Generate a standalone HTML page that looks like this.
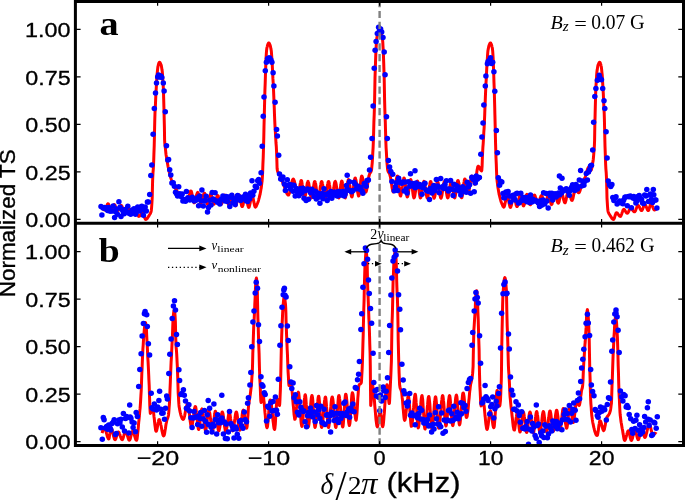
<!DOCTYPE html><html><head><meta charset="utf-8"><style>html,body{margin:0;padding:0;background:#fff;overflow:hidden;}svg{display:block;}</style></head><body><svg width="685" height="501" viewBox="0 0 685 501" style="will-change:transform">
<defs><clipPath id="ca"><rect x="75.4" y="1.5" width="608.1" height="221.8"/></clipPath><clipPath id="cb"><rect x="75.4" y="223.3" width="608.1" height="222.2"/></clipPath></defs>
<rect width="685" height="501" fill="#fff"/>
<g clip-path="url(#ca)"><path d="M102.4,208.0 102.7,208.4 102.9,208.7 103.1,209.0 103.3,209.3 103.5,209.5 103.8,209.6 104.0,209.7 104.2,209.8 104.4,209.9 104.7,209.9 104.9,209.9 105.1,209.8 105.3,209.6 105.5,209.2 105.8,208.7 106.0,208.2 106.2,207.6 106.4,206.9 106.7,206.3 106.9,205.7 107.1,205.1 107.3,204.5 107.5,204.1 107.8,203.8 108.0,203.7 108.2,203.7 108.4,203.9 108.6,204.3 108.9,204.9 109.1,205.6 109.3,206.3 109.5,207.1 109.8,207.9 110.0,208.7 110.2,209.4 110.4,210.0 110.6,210.4 110.9,210.6 111.1,210.6 111.3,210.5 111.5,210.2 111.8,209.8 112.0,209.3 112.2,208.8 112.4,208.2 112.6,207.6 112.9,207.0 113.1,206.4 113.3,205.9 113.5,205.4 113.8,205.0 114.0,204.8 114.2,204.6 114.4,204.6 114.6,204.8 114.9,205.0 115.1,205.4 115.3,205.9 115.5,206.4 115.8,207.0 116.0,207.6 116.2,208.2 116.4,208.8 116.6,209.3 116.9,209.8 117.1,210.2 117.3,210.5 117.5,210.6 117.8,210.6 118.0,210.5 118.2,210.3 118.4,210.0 118.6,209.6 118.9,209.2 119.1,208.7 119.3,208.2 119.5,207.8 119.7,207.3 120.0,206.8 120.2,206.4 120.4,206.0 120.6,205.7 120.9,205.5 121.1,205.4 121.3,205.4 121.5,205.5 121.7,205.8 122.0,206.2 122.2,206.7 122.4,207.2 122.6,207.8 122.9,208.4 123.1,209.0 123.3,209.6 123.5,210.2 123.7,210.7 124.0,211.2 124.2,211.5 124.4,211.7 124.6,211.8 124.9,211.8 125.1,211.7 125.3,211.5 125.5,211.4 125.7,211.2 126.0,210.9 126.2,210.7 126.4,210.4 126.6,210.1 126.9,209.8 127.1,209.5 127.3,209.3 127.5,209.0 127.7,208.8 128.0,208.6 128.2,208.5 128.4,208.4 128.6,208.4 128.9,208.4 129.1,208.6 129.3,208.9 129.5,209.2 129.7,209.7 130.0,210.1 130.2,210.6 130.4,211.1 130.6,211.6 130.8,212.0 131.1,212.5 131.3,212.8 131.5,213.1 131.7,213.3 132.0,213.3 132.2,213.3 132.4,213.1 132.6,212.9 132.8,212.7 133.1,212.3 133.3,212.0 133.5,211.6 133.7,211.2 134.0,210.8 134.2,210.5 134.4,210.1 134.6,209.8 134.8,209.6 135.1,209.4 135.3,209.3 135.5,209.4 135.7,209.5 136.0,209.8 136.2,210.2 136.4,210.8 136.6,211.4 136.8,212.0 137.1,212.7 137.3,213.4 137.5,214.0 137.7,214.6 138.0,215.2 138.2,215.7 138.4,216.0 138.6,216.3 138.8,216.4 139.1,216.3 139.3,216.2 139.5,216.1 139.7,215.9 140.0,215.6 140.2,215.4 140.4,215.1 140.6,214.8 140.8,214.5 141.1,214.2 141.3,213.9 141.5,213.6 141.7,213.3 141.9,213.1 142.2,212.9 142.4,212.8 142.6,212.8 142.8,212.8 143.1,213.0 143.3,213.3 143.5,213.9 143.7,214.5 143.9,215.2 144.2,215.9 144.4,216.6 144.6,217.3 144.8,218.0 145.1,218.6 145.3,219.0 145.5,219.3 145.7,219.4 145.9,219.4 146.2,219.3 146.4,219.2 146.6,219.0 146.8,218.8 147.1,218.6 147.3,218.3 147.5,218.0 147.7,217.7 147.9,217.4 148.2,217.0 148.4,216.7 148.6,216.3 148.8,215.9 149.1,215.6 149.3,215.2 149.5,214.8 149.7,214.5 149.9,214.1 150.2,213.8 150.4,213.4 150.6,212.9 150.8,212.3 151.1,211.6 151.3,210.4 151.5,208.6 151.7,206.0 151.9,202.8 152.2,198.1 152.4,189.1 152.6,181.0 152.8,176.2 153.0,172.5 153.3,169.1 153.5,165.4 153.7,160.7 153.9,154.2 154.2,146.2 154.4,137.7 154.6,128.0 154.8,119.1 155.0,113.0 155.3,107.9 155.5,103.1 155.7,98.2 155.9,93.5 156.2,89.1 156.4,85.3 156.6,81.6 156.8,78.1 157.0,74.9 157.3,72.3 157.5,70.2 157.7,68.4 157.9,66.8 158.2,65.5 158.4,64.6 158.6,63.9 158.8,63.2 159.0,62.7 159.3,62.4 159.5,62.3 159.7,62.3 159.9,62.6 160.2,62.9 160.4,63.3 160.6,63.8 160.8,64.3 161.0,64.9 161.3,65.6 161.5,66.7 161.7,67.9 161.9,69.4 162.2,71.0 162.4,73.1 162.6,75.8 162.8,79.1 163.0,82.9 163.3,87.2 163.5,92.6 163.7,99.5 163.9,106.8 164.1,115.1 164.4,127.0 164.6,140.0 164.8,143.5 165.0,145.7 165.3,147.4 165.5,149.4 165.7,151.4 165.9,153.3 166.1,155.0 166.4,156.7 166.6,158.2 166.8,159.6 167.0,160.9 167.3,162.2 167.5,163.4 167.7,164.5 167.9,165.7 168.1,166.8 168.4,167.9 168.6,169.0 168.8,170.1 169.0,171.1 169.3,172.1 169.5,173.1 169.7,174.0 169.9,174.9 170.1,175.7 170.4,176.5 170.6,177.2 170.8,178.0 171.0,178.7 171.3,179.3 171.5,180.0 171.7,180.6 171.9,181.3 172.1,181.8 172.4,182.4 172.6,183.0 172.8,183.5 173.0,184.0 173.3,184.5 173.5,185.0 173.7,185.4 173.9,185.8 174.1,186.3 174.4,186.7 174.6,187.1 174.8,187.5 175.0,187.8 175.2,188.2 175.5,188.6 175.7,188.9 175.9,189.3 176.1,189.6 176.4,190.0 176.6,190.4 176.8,190.7 177.0,191.1 177.2,191.4 177.5,191.8 177.7,192.2 177.9,192.6 178.1,193.0 178.4,193.3 178.6,193.7 178.8,194.1 179.0,194.4 179.2,194.7 179.5,195.1 179.7,195.4 179.9,195.6 180.1,195.9 180.4,196.1 180.6,196.3 180.8,196.5 181.0,196.7 181.2,196.9 181.5,197.1 181.7,197.3 181.9,197.5 182.1,197.7 182.4,197.9 182.6,198.1 182.8,198.3 183.0,198.5 183.2,198.6 183.5,198.8 183.7,199.0 183.9,199.1 184.1,199.3 184.4,199.4 184.6,199.5 184.8,199.7 185.0,199.8 185.2,199.9 185.5,200.0 185.7,200.1 185.9,200.2 186.1,200.2 186.3,200.3 186.6,200.3 186.8,200.4 187.0,200.4 187.2,200.4 187.5,200.3 187.7,200.0 187.9,199.6 188.1,199.0 188.3,198.3 188.6,197.5 188.8,196.7 189.0,195.9 189.2,195.0 189.5,194.2 189.7,193.4 189.9,192.6 190.1,192.0 190.3,191.5 190.6,191.1 190.8,190.9 191.0,190.9 191.2,191.2 191.5,191.8 191.7,192.6 191.9,193.5 192.1,194.5 192.3,195.7 192.6,196.9 192.8,198.1 193.0,199.2 193.2,200.3 193.5,201.2 193.7,202.0 193.9,202.5 194.1,202.8 194.3,202.8 194.6,202.6 194.8,202.2 195.0,201.6 195.2,200.9 195.5,200.0 195.7,199.1 195.9,198.1 196.1,197.2 196.3,196.2 196.6,195.3 196.8,194.4 197.0,193.7 197.2,193.1 197.4,192.7 197.7,192.4 197.9,192.5 198.1,192.8 198.3,193.3 198.6,194.1 198.8,195.1 199.0,196.1 199.2,197.3 199.4,198.4 199.7,199.5 199.9,200.6 200.1,201.6 200.3,202.3 200.6,202.9 200.8,203.2 201.0,203.2 201.2,203.0 201.4,202.6 201.7,202.0 201.9,201.3 202.1,200.5 202.3,199.6 202.6,198.7 202.8,197.7 203.0,196.8 203.2,195.9 203.4,195.1 203.7,194.4 203.9,193.8 204.1,193.4 204.3,193.2 204.6,193.2 204.8,193.5 205.0,194.1 205.2,194.9 205.4,195.8 205.7,196.9 205.9,198.0 206.1,199.2 206.3,200.3 206.6,201.4 206.8,202.5 207.0,203.3 207.2,204.0 207.4,204.4 207.7,204.6 207.9,204.4 208.1,204.0 208.3,203.3 208.5,202.5 208.8,201.5 209.0,200.5 209.2,199.4 209.4,198.2 209.7,197.2 209.9,196.2 210.1,195.4 210.3,194.7 210.5,194.3 210.8,194.1 211.0,194.3 211.2,194.7 211.4,195.3 211.7,196.1 211.9,197.1 212.1,198.1 212.3,199.2 212.5,200.2 212.8,201.3 213.0,202.2 213.2,203.0 213.4,203.6 213.7,204.1 213.9,204.2 214.1,204.1 214.3,203.9 214.5,203.5 214.8,203.0 215.0,202.5 215.2,201.8 215.4,201.1 215.7,200.4 215.9,199.6 216.1,198.9 216.3,198.2 216.5,197.5 216.8,196.9 217.0,196.4 217.2,195.9 217.4,195.6 217.7,195.5 217.9,195.5 218.1,195.7 218.3,196.1 218.5,196.6 218.8,197.2 219.0,198.0 219.2,198.8 219.4,199.6 219.6,200.5 219.9,201.3 220.1,202.1 220.3,202.8 220.5,203.3 220.8,203.8 221.0,204.1 221.2,204.2 221.4,204.1 221.6,203.8 221.9,203.4 222.1,202.8 222.3,202.1 222.5,201.3 222.8,200.5 223.0,199.6 223.2,198.8 223.4,198.0 223.6,197.2 223.9,196.5 224.1,195.9 224.3,195.5 224.5,195.2 224.8,195.1 225.0,195.2 225.2,195.4 225.4,195.7 225.6,196.2 225.9,196.7 226.1,197.4 226.3,198.1 226.5,198.8 226.8,199.5 227.0,200.3 227.2,201.1 227.4,201.8 227.6,202.5 227.9,203.1 228.1,203.7 228.3,204.1 228.5,204.5 228.8,204.7 229.0,204.8 229.2,204.6 229.4,204.3 229.6,203.7 229.9,202.9 230.1,202.1 230.3,201.1 230.5,200.1 230.7,199.0 231.0,198.0 231.2,197.0 231.4,196.2 231.6,195.4 231.9,194.8 232.1,194.5 232.3,194.3 232.5,194.5 232.7,194.9 233.0,195.5 233.2,196.4 233.4,197.3 233.6,198.4 233.9,199.5 234.1,200.7 234.3,201.8 234.5,202.9 234.7,203.9 235.0,204.7 235.2,205.3 235.4,205.8 235.6,205.9 235.9,205.8 236.1,205.4 236.3,204.7 236.5,203.9 236.7,203.0 237.0,202.0 237.2,200.9 237.4,199.7 237.6,198.6 237.9,197.6 238.1,196.7 238.3,195.9 238.5,195.2 238.7,194.8 239.0,194.7 239.2,194.9 239.4,195.3 239.6,196.0 239.9,196.9 240.1,198.0 240.3,199.2 240.5,200.4 240.7,201.6 241.0,202.8 241.2,203.9 241.4,204.9 241.6,205.7 241.8,206.3 242.1,206.6 242.3,206.6 242.5,206.3 242.7,205.8 243.0,205.1 243.2,204.2 243.4,203.1 243.6,202.0 243.8,200.9 244.1,199.7 244.3,198.6 244.5,197.6 244.7,196.7 245.0,195.9 245.2,195.4 245.4,195.1 245.6,195.1 245.8,195.4 246.1,196.1 246.3,196.9 246.5,197.9 246.7,199.1 247.0,200.3 247.2,201.6 247.4,202.8 247.6,204.0 247.8,205.1 248.1,206.1 248.3,206.8 248.5,207.3 248.7,207.4 249.0,207.3 249.2,206.9 249.4,206.2 249.6,205.4 249.8,204.4 250.1,203.3 250.3,202.1 250.5,201.0 250.7,199.8 251.0,198.7 251.2,197.7 251.4,196.9 251.6,196.2 251.8,195.8 252.1,195.7 252.3,195.8 252.5,196.2 252.7,196.8 252.9,197.6 253.2,198.6 253.4,199.7 253.6,200.8 253.8,201.9 254.1,203.0 254.3,204.1 254.5,205.1 254.7,205.9 254.9,206.5 255.2,206.9 255.4,207.1 255.6,207.0 255.8,206.8 256.1,206.5 256.3,206.1 256.5,205.7 256.7,205.1 256.9,204.6 257.2,204.1 257.4,203.5 257.6,203.0 257.8,202.4 258.1,201.8 258.3,201.1 258.5,200.3 258.7,199.6 258.9,198.8 259.2,197.9 259.4,197.0 259.6,196.1 259.8,195.2 260.1,194.2 260.3,193.1 260.5,192.0 260.7,190.8 260.9,189.5 261.2,188.1 261.4,186.5 261.6,184.9 261.8,183.1 262.1,181.0 262.3,178.5 262.5,175.3 262.7,170.4 262.9,164.4 263.2,157.9 263.4,151.4 263.6,144.6 263.8,136.8 264.0,126.8 264.3,114.9 264.5,106.5 264.7,98.9 264.9,90.7 265.2,83.0 265.4,76.3 265.6,70.2 265.8,64.6 266.0,59.1 266.3,54.2 266.5,51.1 266.7,49.3 266.9,47.9 267.2,46.8 267.4,45.9 267.6,45.2 267.8,44.5 268.0,43.9 268.3,43.4 268.5,43.0 268.7,42.9 268.9,43.0 269.2,43.2 269.4,43.6 269.6,44.1 269.8,44.6 270.0,45.2 270.3,45.9 270.5,46.7 270.7,47.7 270.9,48.9 271.2,50.3 271.4,52.0 271.6,54.6 271.8,57.9 272.0,61.6 272.3,65.5 272.5,69.4 272.7,73.7 272.9,78.4 273.2,83.0 273.4,87.3 273.6,91.7 273.8,96.4 274.0,101.9 274.3,108.7 274.5,114.9 274.7,119.8 274.9,124.2 275.1,128.4 275.4,132.4 275.6,136.2 275.8,139.7 276.0,143.0 276.3,146.5 276.5,150.4 276.7,154.8 276.9,161.6 277.1,168.5 277.4,170.5 277.6,171.3 277.8,171.9 278.0,172.4 278.3,172.7 278.5,173.1 278.7,173.3 278.9,173.6 279.1,173.8 279.4,174.1 279.6,174.5 279.8,175.0 280.0,175.5 280.3,176.1 280.5,176.6 280.7,177.2 280.9,177.8 281.1,178.4 281.4,179.0 281.6,179.6 281.8,180.2 282.0,180.7 282.3,181.3 282.5,181.9 282.7,182.5 282.9,183.1 283.1,183.7 283.4,184.2 283.6,184.8 283.8,185.3 284.0,185.9 284.3,186.4 284.5,187.0 284.7,187.6 284.9,188.2 285.1,188.8 285.4,189.4 285.6,190.0 285.8,190.7 286.0,191.3 286.2,191.9 286.5,192.4 286.7,192.9 286.9,193.4 287.1,193.9 287.4,194.2 287.6,194.6 287.8,194.8 288.0,195.0 288.2,195.1 288.5,195.1 288.7,194.9 288.9,194.5 289.1,194.0 289.4,193.3 289.6,192.6 289.8,191.7 290.0,190.8 290.2,189.8 290.5,188.7 290.7,187.6 290.9,186.6 291.1,185.5 291.4,184.4 291.6,183.4 291.8,182.5 292.0,181.6 292.2,180.9 292.5,180.2 292.7,179.7 292.9,179.3 293.1,179.1 293.4,179.1 293.6,179.3 293.8,179.7 294.0,180.2 294.2,180.9 294.5,181.7 294.7,182.5 294.9,183.5 295.1,184.5 295.4,185.6 295.6,186.6 295.8,187.7 296.0,188.8 296.2,189.8 296.5,190.8 296.7,191.7 296.9,192.6 297.1,193.3 297.3,193.9 297.6,194.3 297.8,194.6 298.0,194.7 298.2,194.5 298.5,194.0 298.7,193.1 298.9,192.0 299.1,190.8 299.3,189.4 299.6,187.9 299.8,186.5 300.0,185.0 300.2,183.7 300.5,182.5 300.7,181.6 300.9,180.9 301.1,180.5 301.3,180.5 301.6,180.9 301.8,181.7 302.0,182.9 302.2,184.2 302.5,185.8 302.7,187.5 302.9,189.2 303.1,190.9 303.3,192.6 303.6,194.2 303.8,195.5 304.0,196.6 304.2,197.4 304.5,197.9 304.7,197.9 304.9,197.5 305.1,196.8 305.3,195.8 305.6,194.6 305.8,193.2 306.0,191.6 306.2,190.1 306.5,188.5 306.7,186.9 306.9,185.5 307.1,184.1 307.3,183.0 307.6,182.2 307.8,181.6 308.0,181.4 308.2,181.6 308.4,182.2 308.7,183.0 308.9,184.1 309.1,185.5 309.3,186.9 309.6,188.5 309.8,190.1 310.0,191.6 310.2,193.2 310.4,194.6 310.7,195.8 310.9,196.8 311.1,197.5 311.3,197.9 311.6,197.9 311.8,197.5 312.0,196.7 312.2,195.7 312.4,194.4 312.7,192.9 312.9,191.3 313.1,189.7 313.3,188.0 313.6,186.4 313.8,185.0 314.0,183.7 314.2,182.6 314.4,181.9 314.7,181.5 314.9,181.5 315.1,181.8 315.3,182.6 315.6,183.6 315.8,184.8 316.0,186.2 316.2,187.8 316.4,189.4 316.7,191.0 316.9,192.5 317.1,194.0 317.3,195.4 317.6,196.5 317.8,197.4 318.0,197.9 318.2,198.1 318.4,197.9 318.7,197.4 318.9,196.5 319.1,195.4 319.3,194.0 319.5,192.5 319.8,191.0 320.0,189.4 320.2,187.8 320.4,186.2 320.7,184.8 320.9,183.6 321.1,182.6 321.3,181.8 321.5,181.5 321.8,181.5 322.0,181.8 322.2,182.6 322.4,183.6 322.7,184.8 322.9,186.2 323.1,187.8 323.3,189.4 323.5,191.0 323.8,192.5 324.0,194.0 324.2,195.4 324.4,196.5 324.7,197.4 324.9,197.9 325.1,198.1 325.3,197.9 325.5,197.4 325.8,196.5 326.0,195.4 326.2,194.0 326.4,192.5 326.7,191.0 326.9,189.4 327.1,187.8 327.3,186.2 327.5,184.8 327.8,183.6 328.0,182.6 328.2,181.8 328.4,181.5 328.7,181.5 328.9,181.9 329.1,182.6 329.3,183.7 329.5,185.0 329.8,186.5 330.0,188.1 330.2,189.8 330.4,191.4 330.6,193.0 330.9,194.5 331.1,195.8 331.3,196.9 331.5,197.7 331.8,198.1 332.0,198.1 332.2,197.7 332.4,196.9 332.6,195.8 332.9,194.5 333.1,193.0 333.3,191.4 333.5,189.8 333.8,188.1 334.0,186.5 334.2,185.0 334.4,183.7 334.6,182.6 334.9,181.9 335.1,181.5 335.3,181.4 335.5,181.8 335.8,182.5 336.0,183.4 336.2,184.6 336.4,185.9 336.6,187.4 336.9,188.9 337.1,190.4 337.3,192.0 337.5,193.4 337.8,194.7 338.0,195.9 338.2,196.8 338.4,197.5 338.6,197.9 338.9,197.9 339.1,197.4 339.3,196.4 339.5,195.1 339.8,193.5 340.0,191.8 340.2,189.9 340.4,188.1 340.6,186.3 340.9,184.6 341.1,183.2 341.3,182.0 341.5,181.3 341.7,181.0 342.0,181.2 342.2,181.8 342.4,182.7 342.6,183.8 342.9,185.2 343.1,186.7 343.3,188.3 343.5,189.9 343.7,191.5 344.0,193.1 344.2,194.5 344.4,195.7 344.6,196.8 344.9,197.5 345.1,197.9 345.3,197.9 345.5,197.4 345.7,196.6 346.0,195.4 346.2,193.9 346.4,192.3 346.6,190.5 346.9,188.7 347.1,186.9 347.3,185.1 347.5,183.5 347.7,182.0 348.0,180.9 348.2,180.0 348.4,179.6 348.6,179.6 348.9,180.0 349.1,180.8 349.3,181.9 349.5,183.3 349.7,184.8 350.0,186.5 350.2,188.2 350.4,190.0 350.6,191.7 350.9,193.2 351.1,194.6 351.3,195.7 351.5,196.5 351.7,196.9 352.0,196.9 352.2,196.4 352.4,195.6 352.6,194.4 352.8,192.9 353.1,191.2 353.3,189.4 353.5,187.5 353.7,185.6 354.0,183.8 354.2,182.1 354.4,180.6 354.6,179.4 354.8,178.5 355.1,178.0 355.3,178.0 355.5,178.4 355.7,179.2 356.0,180.2 356.2,181.5 356.4,182.9 356.6,184.5 356.8,186.2 357.1,187.8 357.3,189.5 357.5,191.1 357.7,192.5 358.0,193.8 358.2,194.8 358.4,195.6 358.6,196.0 358.8,195.9 359.1,195.3 359.3,194.2 359.5,192.7 359.7,190.9 360.0,188.8 360.2,186.6 360.4,184.4 360.6,182.3 360.8,180.3 361.1,178.6 361.3,177.3 361.5,176.4 361.7,176.1 362.0,176.2 362.2,176.6 362.4,177.2 362.6,178.0 362.8,179.0 363.1,180.1 363.3,181.3 363.5,182.6 363.7,183.9 363.9,185.2 364.2,186.5 364.4,187.7 364.6,188.8 364.8,189.8 365.1,190.7 365.3,191.4 365.5,191.8 365.7,192.0 365.9,192.0 366.2,191.6 366.4,191.0 366.6,190.1 366.8,189.1 367.1,187.9 367.3,186.6 367.5,185.1 367.7,183.7 367.9,182.2 368.2,180.8 368.4,179.4 368.6,178.0 368.8,176.8 369.1,175.8 369.3,174.9 369.5,174.3 369.7,173.7 369.9,173.3 370.2,173.0 370.4,172.7 370.6,172.3 370.8,171.9 371.1,171.4 371.3,170.8 371.5,170.0 371.7,168.5 371.9,166.1 372.2,163.1 372.4,159.9 372.6,156.5 372.8,152.4 373.1,147.8 373.3,142.7 373.5,136.9 373.7,129.6 373.9,121.9 374.2,114.8 374.4,108.0 374.6,100.1 374.8,89.3 375.0,77.9 375.3,69.2 375.5,62.6 375.7,57.0 375.9,51.5 376.2,46.3 376.4,42.3 376.6,40.0 376.8,38.4 377.0,37.1 377.3,36.0 377.5,34.9 377.7,33.8 377.9,32.8 378.2,32.0 378.4,31.4 378.6,30.9 378.8,30.3 379.0,29.9 379.3,29.6 379.5,29.4 379.7,29.4 379.9,29.6 380.2,29.9 380.4,30.3 380.6,30.9 380.8,31.4 381.0,32.0 381.3,32.8 381.5,33.8 381.7,34.9 381.9,36.0 382.2,37.1 382.4,38.4 382.6,40.0 382.8,42.3 383.0,46.3 383.3,51.5 383.5,56.9 383.7,62.6 383.9,69.2 384.2,77.9 384.4,89.2 384.6,100.1 384.8,108.0 385.0,114.8 385.3,121.9 385.5,129.6 385.7,136.9 385.9,142.7 386.1,147.8 386.4,152.4 386.6,156.5 386.8,159.9 387.0,163.1 387.3,166.1 387.5,168.5 387.7,170.0 387.9,170.8 388.1,171.4 388.4,171.9 388.6,172.3 388.8,172.7 389.0,173.0 389.3,173.3 389.5,173.7 389.7,174.3 389.9,174.9 390.1,175.8 390.4,176.8 390.6,178.0 390.8,179.4 391.0,180.8 391.3,182.2 391.5,183.7 391.7,185.1 391.9,186.6 392.1,187.9 392.4,189.1 392.6,190.1 392.8,191.0 393.0,191.6 393.3,192.0 393.5,192.0 393.7,191.8 393.9,191.4 394.1,190.7 394.4,189.8 394.6,188.8 394.8,187.7 395.0,186.5 395.3,185.2 395.5,183.9 395.7,182.6 395.9,181.3 396.1,180.1 396.4,179.0 396.6,178.0 396.8,177.2 397.0,176.6 397.2,176.2 397.5,176.1 397.7,176.4 397.9,177.3 398.1,178.6 398.4,180.3 398.6,182.3 398.8,184.4 399.0,186.6 399.2,188.8 399.5,190.9 399.7,192.7 399.9,194.2 400.1,195.3 400.4,195.9 400.6,196.0 400.8,195.6 401.0,194.8 401.2,193.8 401.5,192.5 401.7,191.1 401.9,189.5 402.1,187.8 402.4,186.2 402.6,184.5 402.8,182.9 403.0,181.5 403.2,180.2 403.5,179.2 403.7,178.4 403.9,178.0 404.1,178.0 404.4,178.5 404.6,179.4 404.8,180.6 405.0,182.1 405.2,183.8 405.5,185.6 405.7,187.5 405.9,189.4 406.1,191.2 406.4,192.9 406.6,194.4 406.8,195.6 407.0,196.4 407.2,196.9 407.5,196.9 407.7,196.5 407.9,195.7 408.1,194.6 408.3,193.2 408.6,191.7 408.8,190.0 409.0,188.2 409.2,186.5 409.5,184.8 409.7,183.3 409.9,181.9 410.1,180.8 410.3,180.0 410.6,179.6 410.8,179.6 411.0,180.0 411.2,180.9 411.5,182.0 411.7,183.5 411.9,185.1 412.1,186.9 412.3,188.7 412.6,190.5 412.8,192.3 413.0,193.9 413.2,195.4 413.5,196.6 413.7,197.4 413.9,197.9 414.1,197.9 414.3,197.5 414.6,196.8 414.8,195.7 415.0,194.5 415.2,193.1 415.5,191.5 415.7,189.9 415.9,188.3 416.1,186.7 416.3,185.2 416.6,183.8 416.8,182.7 417.0,181.8 417.2,181.2 417.5,181.0 417.7,181.3 417.9,182.0 418.1,183.2 418.3,184.6 418.6,186.3 418.8,188.1 419.0,189.9 419.2,191.8 419.4,193.5 419.7,195.1 419.9,196.4 420.1,197.4 420.3,197.9 420.6,197.9 420.8,197.5 421.0,196.8 421.2,195.9 421.4,194.7 421.7,193.4 421.9,192.0 422.1,190.4 422.3,188.9 422.6,187.4 422.8,185.9 423.0,184.6 423.2,183.4 423.4,182.5 423.7,181.8 423.9,181.4 424.1,181.5 424.3,181.9 424.6,182.6 424.8,183.7 425.0,185.0 425.2,186.5 425.4,188.1 425.7,189.8 425.9,191.4 426.1,193.0 426.3,194.5 426.6,195.8 426.8,196.9 427.0,197.7 427.2,198.1 427.4,198.1 427.7,197.7 427.9,196.9 428.1,195.8 428.3,194.5 428.6,193.0 428.8,191.4 429.0,189.8 429.2,188.1 429.4,186.5 429.7,185.0 429.9,183.7 430.1,182.6 430.3,181.9 430.5,181.5 430.8,181.5 431.0,181.8 431.2,182.6 431.4,183.6 431.7,184.8 431.9,186.2 432.1,187.8 432.3,189.4 432.5,191.0 432.8,192.5 433.0,194.0 433.2,195.4 433.4,196.5 433.7,197.4 433.9,197.9 434.1,198.1 434.3,197.9 434.5,197.4 434.8,196.5 435.0,195.4 435.2,194.0 435.4,192.5 435.7,191.0 435.9,189.4 436.1,187.8 436.3,186.2 436.5,184.8 436.8,183.6 437.0,182.6 437.2,181.8 437.4,181.5 437.7,181.5 437.9,181.8 438.1,182.6 438.3,183.6 438.5,184.8 438.8,186.2 439.0,187.8 439.2,189.4 439.4,191.0 439.7,192.5 439.9,194.0 440.1,195.4 440.3,196.5 440.5,197.4 440.8,197.9 441.0,198.1 441.2,197.9 441.4,197.4 441.6,196.5 441.9,195.4 442.1,194.0 442.3,192.5 442.5,191.0 442.8,189.4 443.0,187.8 443.2,186.2 443.4,184.8 443.6,183.6 443.9,182.6 444.1,181.8 444.3,181.5 444.5,181.5 444.8,181.9 445.0,182.6 445.2,183.7 445.4,185.0 445.6,186.4 445.9,188.0 446.1,189.7 446.3,191.3 446.5,192.9 446.8,194.4 447.0,195.7 447.2,196.7 447.4,197.5 447.6,197.9 447.9,197.9 448.1,197.5 448.3,196.8 448.5,195.8 448.8,194.6 449.0,193.2 449.2,191.6 449.4,190.1 449.6,188.5 449.9,186.9 450.1,185.5 450.3,184.1 450.5,183.0 450.8,182.2 451.0,181.6 451.2,181.4 451.4,181.6 451.6,182.2 451.9,183.0 452.1,184.1 452.3,185.5 452.5,186.9 452.7,188.5 453.0,190.1 453.2,191.6 453.4,193.2 453.6,194.6 453.9,195.8 454.1,196.8 454.3,197.5 454.5,197.9 454.7,197.9 455.0,197.4 455.2,196.6 455.4,195.5 455.6,194.2 455.9,192.6 456.1,190.9 456.3,189.2 456.5,187.5 456.7,185.8 457.0,184.2 457.2,182.9 457.4,181.7 457.6,180.9 457.9,180.5 458.1,180.5 458.3,180.9 458.5,181.5 458.7,182.5 459.0,183.6 459.2,184.9 459.4,186.4 459.6,187.9 459.9,189.5 460.1,191.0 460.3,192.5 460.5,193.9 460.7,195.2 461.0,196.2 461.2,197.0 461.4,197.6 461.6,197.7 461.9,197.5 462.1,196.8 462.3,195.7 462.5,194.2 462.7,192.6 463.0,190.7 463.2,188.8 463.4,186.9 463.6,185.0 463.8,183.2 464.1,181.7 464.3,180.4 464.5,179.5 464.7,179.0 465.0,179.0 465.2,179.3 465.4,180.0 465.6,180.9 465.8,182.0 466.1,183.2 466.3,184.6 466.5,186.0 466.7,187.4 467.0,188.7 467.2,190.0 467.4,191.1 467.6,191.9 467.8,192.6 468.1,192.9 468.3,192.9 468.5,192.6 468.7,191.9 469.0,191.0 469.2,189.9 469.4,188.6 469.6,187.2 469.8,185.7 470.1,184.2 470.3,182.6 470.5,181.2 470.7,179.8 471.0,178.6 471.2,177.6 471.4,176.8 471.6,176.3 471.8,176.1 472.1,176.2 472.3,176.6 472.5,177.2 472.7,177.9 473.0,178.8 473.2,179.7 473.4,180.6 473.6,181.6 473.8,182.4 474.1,183.1 474.3,183.7 474.5,184.1 474.7,184.2 474.9,184.0 475.2,183.4 475.4,182.5 475.6,181.3 475.8,179.8 476.1,178.2 476.3,176.5 476.5,174.8 476.7,173.1 476.9,171.4 477.2,169.9 477.4,168.5 477.6,167.5 477.8,166.7 478.1,166.3 478.3,166.2 478.5,166.3 478.7,166.5 478.9,166.8 479.2,167.1 479.4,167.5 479.6,167.9 479.8,168.4 480.1,168.8 480.3,169.2 480.5,169.7 480.7,170.0 480.9,170.4 481.2,170.6 481.4,170.8 481.6,170.9 481.8,170.3 482.1,166.1 482.3,160.1 482.5,154.8 482.7,150.8 482.9,147.1 483.2,143.5 483.4,139.9 483.6,136.3 483.8,132.4 484.1,128.4 484.3,124.2 484.5,119.8 484.7,114.9 484.9,108.7 485.2,101.9 485.4,96.4 485.6,91.7 485.8,87.3 486.0,83.0 486.3,78.4 486.5,73.7 486.7,69.4 486.9,65.5 487.2,61.6 487.4,57.9 487.6,54.6 487.8,52.0 488.0,50.3 488.3,48.9 488.5,47.7 488.7,46.7 488.9,45.9 489.2,45.2 489.4,44.6 489.6,44.1 489.8,43.6 490.0,43.2 490.3,43.0 490.5,42.9 490.7,43.0 490.9,43.4 491.2,43.9 491.4,44.5 491.6,45.2 491.8,45.9 492.0,46.8 492.3,47.9 492.5,49.3 492.7,51.1 492.9,54.2 493.2,59.1 493.4,64.6 493.6,70.2 493.8,76.3 494.0,83.0 494.3,90.7 494.5,98.9 494.7,106.5 494.9,114.9 495.2,126.8 495.4,136.8 495.6,144.6 495.8,151.4 496.0,157.9 496.3,164.4 496.5,170.4 496.7,175.3 496.9,178.5 497.1,181.0 497.4,183.1 497.6,184.9 497.8,186.5 498.0,188.0 498.3,189.5 498.5,190.8 498.7,192.0 498.9,193.1 499.1,194.2 499.4,195.2 499.6,196.1 499.8,197.0 500.0,197.9 500.3,198.8 500.5,199.6 500.7,200.3 500.9,201.1 501.1,201.8 501.4,202.4 501.6,203.0 501.8,203.5 502.0,204.1 502.3,204.6 502.5,205.1 502.7,205.7 502.9,206.1 503.1,206.5 503.4,206.8 503.6,207.0 503.8,207.1 504.0,206.9 504.3,206.5 504.5,205.9 504.7,205.1 504.9,204.1 505.1,203.0 505.4,201.9 505.6,200.8 505.8,199.7 506.0,198.6 506.3,197.6 506.5,196.8 506.7,196.2 506.9,195.8 507.1,195.7 507.4,195.8 507.6,196.2 507.8,196.9 508.0,197.7 508.2,198.7 508.5,199.8 508.7,201.0 508.9,202.1 509.1,203.3 509.4,204.4 509.6,205.4 509.8,206.2 510.0,206.9 510.2,207.3 510.5,207.4 510.7,207.3 510.9,206.8 511.1,206.1 511.4,205.1 511.6,204.0 511.8,202.8 512.0,201.6 512.2,200.3 512.5,199.1 512.7,197.9 512.9,196.9 513.1,196.1 513.4,195.4 513.6,195.1 513.8,195.1 514.0,195.4 514.2,195.9 514.5,196.7 514.7,197.6 514.9,198.6 515.1,199.7 515.4,200.9 515.6,202.0 515.8,203.1 516.0,204.2 516.2,205.1 516.5,205.8 516.7,206.3 516.9,206.6 517.1,206.6 517.4,206.3 517.6,205.7 517.8,204.9 518.0,203.9 518.2,202.8 518.5,201.6 518.7,200.4 518.9,199.2 519.1,198.0 519.3,196.9 519.6,196.0 519.8,195.3 520.0,194.9 520.2,194.7 520.5,194.8 520.7,195.2 520.9,195.9 521.1,196.7 521.3,197.6 521.6,198.6 521.8,199.7 522.0,200.9 522.2,202.0 522.5,203.0 522.7,203.9 522.9,204.7 523.1,205.4 523.3,205.8 523.6,205.9 523.8,205.8 524.0,205.3 524.2,204.7 524.5,203.9 524.7,202.9 524.9,201.8 525.1,200.7 525.3,199.5 525.6,198.4 525.8,197.3 526.0,196.4 526.2,195.5 526.5,194.9 526.7,194.5 526.9,194.3 527.1,194.5 527.3,194.8 527.6,195.4 527.8,196.2 528.0,197.0 528.2,198.0 528.5,199.0 528.7,200.1 528.9,201.1 529.1,202.1 529.3,202.9 529.6,203.7 529.8,204.3 530.0,204.6 530.2,204.8 530.4,204.7 530.7,204.5 530.9,204.1 531.1,203.7 531.3,203.1 531.6,202.5 531.8,201.8 532.0,201.1 532.2,200.3 532.4,199.5 532.7,198.8 532.9,198.1 533.1,197.4 533.3,196.7 533.6,196.2 533.8,195.7 534.0,195.4 534.2,195.2 534.4,195.1 534.7,195.2 534.9,195.5 535.1,195.9 535.3,196.5 535.6,197.2 535.8,198.0 536.0,198.8 536.2,199.6 536.4,200.5 536.7,201.3 536.9,202.1 537.1,202.8 537.3,203.4 537.6,203.8 537.8,204.1 538.0,204.2 538.2,204.1 538.4,203.8 538.7,203.3 538.9,202.8 539.1,202.1 539.3,201.3 539.6,200.5 539.8,199.6 540.0,198.8 540.2,198.0 540.4,197.2 540.7,196.6 540.9,196.1 541.1,195.7 541.3,195.5 541.5,195.5 541.8,195.6 542.0,195.9 542.2,196.4 542.4,196.9 542.7,197.5 542.9,198.2 543.1,198.9 543.3,199.6 543.5,200.4 543.8,201.1 544.0,201.8 544.2,202.5 544.4,203.0 544.7,203.5 544.9,203.9 545.1,204.1 545.3,204.2 545.5,204.1 545.8,203.6 546.0,203.0 546.2,202.2 546.4,201.3 546.7,200.2 546.9,199.2 547.1,198.1 547.3,197.1 547.5,196.1 547.8,195.3 548.0,194.7 548.2,194.3 548.4,194.1 548.7,194.3 548.9,194.7 549.1,195.4 549.3,196.2 549.5,197.2 549.8,198.2 550.0,199.4 550.2,200.5 550.4,201.5 550.7,202.5 550.9,203.3 551.1,204.0 551.3,204.4 551.5,204.6 551.8,204.4 552.0,204.0 552.2,203.3 552.4,202.5 552.6,201.4 552.9,200.3 553.1,199.2 553.3,198.0 553.5,196.9 553.8,195.8 554.0,194.9 554.2,194.1 554.4,193.5 554.6,193.2 554.9,193.2 555.1,193.4 555.3,193.8 555.5,194.4 555.8,195.1 556.0,195.9 556.2,196.8 556.4,197.7 556.6,198.7 556.9,199.6 557.1,200.5 557.3,201.3 557.5,202.0 557.8,202.6 558.0,203.0 558.2,203.2 558.4,203.2 558.6,202.9 558.9,202.3 559.1,201.6 559.3,200.6 559.5,199.5 559.8,198.4 560.0,197.3 560.2,196.1 560.4,195.1 560.6,194.1 560.9,193.3 561.1,192.8 561.3,192.5 561.5,192.4 561.8,192.7 562.0,193.1 562.2,193.7 562.4,194.4 562.6,195.3 562.9,196.2 563.1,197.2 563.3,198.1 563.5,199.1 563.7,200.0 564.0,200.9 564.2,201.6 564.4,202.2 564.6,202.6 564.9,202.8 565.1,202.8 565.3,202.5 565.5,202.0 565.7,201.2 566.0,200.3 566.2,199.2 566.4,198.1 566.6,196.9 566.9,195.7 567.1,194.5 567.3,193.5 567.5,192.6 567.7,191.8 568.0,191.2 568.2,190.9 568.4,190.9 568.6,191.1 568.9,191.5 569.1,192.0 569.3,192.6 569.5,193.4 569.7,194.2 570.0,195.0 570.2,195.9 570.4,196.7 570.6,197.5 570.9,198.3 571.1,199.0 571.3,199.6 571.5,200.0 571.7,200.3 572.0,200.4 572.2,200.3 572.4,199.9 572.6,199.3 572.9,198.6 573.1,197.7 573.3,196.7 573.5,195.7 573.7,194.6 574.0,193.5 574.2,192.5 574.4,191.5 574.6,190.6 574.8,189.9 575.1,189.3 575.3,188.9 575.5,188.8 575.7,188.9 576.0,189.0 576.2,189.2 576.4,189.5 576.6,189.8 576.8,190.2 577.1,190.6 577.3,191.0 577.5,191.4 577.7,191.8 578.0,192.1 578.2,192.4 578.4,192.6 578.6,192.7 578.8,192.8 579.1,192.7 579.3,192.4 579.5,192.0 579.7,191.4 580.0,190.8 580.2,190.1 580.4,189.3 580.6,188.5 580.8,187.7 581.1,186.9 581.3,186.1 581.5,185.5 581.7,184.9 582.0,184.4 582.2,183.9 582.4,183.4 582.6,182.9 582.8,182.4 583.1,181.9 583.3,181.4 583.5,180.9 583.7,180.4 584.0,179.9 584.2,179.4 584.4,178.9 584.6,178.4 584.8,177.9 585.1,177.3 585.3,176.7 585.5,176.0 585.7,175.3 585.9,174.5 586.2,173.7 586.4,172.9 586.6,172.1 586.8,171.4 587.1,170.6 587.3,169.9 587.5,169.3 587.7,168.7 587.9,168.2 588.2,167.7 588.4,167.4 588.6,167.2 588.8,167.2 589.1,167.2 589.3,167.5 589.5,167.9 589.7,168.3 589.9,168.8 590.2,169.3 590.4,169.7 590.6,170.0 590.8,170.2 591.1,170.2 591.3,169.9 591.5,169.3 591.7,168.5 591.9,167.5 592.2,166.4 592.4,165.1 592.6,163.7 592.8,162.3 593.1,160.9 593.3,159.2 593.5,157.1 593.7,154.7 593.9,151.9 594.2,148.9 594.4,145.3 594.6,140.0 594.8,126.8 595.1,115.1 595.3,106.8 595.5,99.5 595.7,92.6 595.9,87.2 596.2,82.9 596.4,79.1 596.6,75.8 596.8,73.1 597.0,71.0 597.3,69.4 597.5,67.9 597.7,66.7 597.9,65.6 598.2,64.9 598.4,64.3 598.6,63.8 598.8,63.3 599.0,62.9 599.3,62.6 599.5,62.3 599.7,62.3 599.9,62.4 600.2,62.7 600.4,63.2 600.6,63.9 600.8,64.5 601.0,65.5 601.3,66.8 601.5,68.4 601.7,70.2 601.9,72.3 602.2,74.9 602.4,78.1 602.6,81.6 602.8,85.3 603.0,89.1 603.3,93.5 603.5,98.2 603.7,103.1 603.9,107.9 604.2,113.0 604.4,119.1 604.6,128.0 604.8,137.7 605.0,146.2 605.3,154.2 605.5,160.7 605.7,165.4 605.9,169.1 606.2,172.5 606.4,176.2 606.6,181.0 606.8,189.1 607.0,198.1 607.3,202.8 607.5,206.0 607.7,208.6 607.9,210.4 608.1,211.6 608.4,212.3 608.6,212.9 608.8,213.4 609.0,213.8 609.3,214.1 609.5,214.5 609.7,214.8 609.9,215.2 610.1,215.6 610.4,215.9 610.6,216.3 610.8,216.7 611.0,217.0 611.3,217.4 611.5,217.7 611.7,218.0 611.9,218.3 612.1,218.6 612.4,218.8 612.6,219.0 612.8,219.2 613.0,219.3 613.3,219.4 613.5,219.4 613.7,219.3 613.9,219.0 614.1,218.6 614.4,218.0 614.6,217.3 614.8,216.6 615.0,215.9 615.3,215.2 615.5,214.5 615.7,213.9 615.9,213.3 616.1,213.0 616.4,212.8 616.6,212.8 616.8,212.8 617.0,212.9 617.3,213.1 617.5,213.3 617.7,213.6 617.9,213.9 618.1,214.2 618.4,214.5 618.6,214.8 618.8,215.1 619.0,215.4 619.2,215.6 619.5,215.9 619.7,216.1 619.9,216.2 620.1,216.3 620.4,216.4 620.6,216.3 620.8,216.0 621.0,215.7 621.2,215.2 621.5,214.6 621.7,214.0 621.9,213.4 622.1,212.7 622.4,212.0 622.6,211.4 622.8,210.8 623.0,210.2 623.2,209.8 623.5,209.5 623.7,209.4 623.9,209.3 624.1,209.4 624.4,209.6 624.6,209.8 624.8,210.1 625.0,210.5 625.2,210.8 625.5,211.2 625.7,211.6 625.9,212.0 626.1,212.3 626.4,212.7 626.6,212.9 626.8,213.1 627.0,213.3 627.2,213.3 627.5,213.3 627.7,213.1 627.9,212.8 628.1,212.5 628.4,212.0 628.6,211.6 628.8,211.1 629.0,210.6 629.2,210.1 629.5,209.7 629.7,209.2 629.9,208.9 630.1,208.6 630.3,208.4 630.6,208.4 630.8,208.4 631.0,208.5 631.2,208.6 631.5,208.8 631.7,209.0 631.9,209.3 632.1,209.5 632.3,209.8 632.6,210.1 632.8,210.4 633.0,210.7 633.2,210.9 633.5,211.2 633.7,211.4 633.9,211.5 634.1,211.7 634.3,211.8 634.6,211.8 634.8,211.7 635.0,211.5 635.2,211.2 635.5,210.7 635.7,210.2 635.9,209.6 636.1,209.0 636.3,208.4 636.6,207.8 636.8,207.2 637.0,206.7 637.2,206.2 637.5,205.8 637.7,205.5 637.9,205.4 638.1,205.4 638.3,205.5 638.6,205.7 638.8,206.0 639.0,206.4 639.2,206.8 639.5,207.3 639.7,207.8 639.9,208.2 640.1,208.7 640.3,209.2 640.6,209.6 640.8,210.0 641.0,210.3 641.2,210.5 641.4,210.6 641.7,210.6 641.9,210.5 642.1,210.2 642.3,209.8 642.6,209.3 642.8,208.8 643.0,208.2 643.2,207.6 643.4,207.0 643.7,206.4 643.9,205.9 644.1,205.4 644.3,205.0 644.6,204.8 644.8,204.6 645.0,204.6 645.2,204.8 645.4,205.0 645.7,205.4 645.9,205.9 646.1,206.4 646.3,207.0 646.6,207.6 646.8,208.2 647.0,208.8 647.2,209.3 647.4,209.8 647.7,210.2 647.9,210.5 648.1,210.6 648.3,210.6 648.6,210.4 648.8,210.0 649.0,209.4 649.2,208.7 649.4,207.9 649.7,207.1 649.9,206.3 650.1,205.6 650.3,204.9 650.6,204.3 650.8,203.9 651.0,203.7 651.2,203.7 651.4,203.8 651.7,204.1 651.9,204.5 652.1,205.1 652.3,205.7 652.5,206.3 652.8,206.9 653.0,207.6 653.2,208.2 653.4,208.7 653.7,209.2 653.9,209.6 654.1,209.8 654.3,209.9 654.5,209.9 654.8,209.9 655.0,209.8 655.2,209.7 655.4,209.6 655.7,209.5 655.9,209.3 656.1,209.0 656.3,208.7 656.5,208.4 656.8,208.0" fill="none" stroke="#ff0000" stroke-width="3" stroke-linejoin="round"/></g>
<g clip-path="url(#cb)"><path d="M102.1,433.2 102.3,432.4 102.5,431.5 102.8,430.8 103.0,430.1 103.2,429.5 103.4,428.9 103.7,428.5 103.9,428.2 104.1,428.0 104.3,427.9 104.5,428.0 104.8,428.2 105.0,428.6 105.2,429.1 105.4,429.6 105.7,430.3 105.9,431.0 106.1,431.8 106.3,432.6 106.5,433.4 106.8,434.3 107.0,435.1 107.2,435.8 107.4,436.6 107.6,437.2 107.9,437.8 108.1,438.3 108.3,438.6 108.5,438.9 108.8,438.9 109.0,438.6 109.2,437.8 109.4,436.6 109.6,435.1 109.9,433.4 110.1,431.8 110.3,430.3 110.5,429.1 110.8,428.2 111.0,427.9 111.2,428.0 111.4,428.3 111.6,428.7 111.9,429.3 112.1,430.0 112.3,430.8 112.5,431.7 112.8,432.6 113.0,433.6 113.2,434.5 113.4,435.5 113.6,436.4 113.9,437.2 114.1,437.9 114.3,438.6 114.5,439.1 114.8,439.5 115.0,439.7 115.2,439.7 115.4,439.5 115.6,439.1 115.9,438.6 116.1,437.9 116.3,437.2 116.5,436.4 116.8,435.6 117.0,434.8 117.2,434.1 117.4,433.4 117.6,432.8 117.9,432.3 118.1,432.0 118.3,431.9 118.5,432.0 118.7,432.2 119.0,432.5 119.2,432.9 119.4,433.5 119.6,434.0 119.9,434.7 120.1,435.3 120.3,436.0 120.5,436.6 120.7,437.3 121.0,437.9 121.2,438.4 121.4,438.9 121.6,439.3 121.9,439.5 122.1,439.7 122.3,439.7 122.5,439.5 122.7,439.1 123.0,438.5 123.2,437.9 123.4,437.1 123.6,436.3 123.9,435.4 124.1,434.6 124.3,433.8 124.5,433.0 124.7,432.3 125.0,431.8 125.2,431.4 125.4,431.2 125.6,431.2 125.9,431.3 126.1,431.7 126.3,432.1 126.5,432.6 126.7,433.3 127.0,434.0 127.2,434.7 127.4,435.5 127.6,436.3 127.9,437.1 128.1,437.8 128.3,438.5 128.5,439.1 128.7,439.6 129.0,439.9 129.2,440.2 129.4,440.3 129.6,440.1 129.8,439.8 130.1,439.3 130.3,438.6 130.5,437.8 130.7,436.9 131.0,435.9 131.2,435.0 131.4,434.1 131.6,433.2 131.8,432.5 132.1,431.9 132.3,431.4 132.5,431.2 132.7,431.2 133.0,431.3 133.2,431.7 133.4,432.1 133.6,432.6 133.8,433.3 134.1,434.0 134.3,434.7 134.5,435.5 134.7,436.3 135.0,437.1 135.2,437.8 135.4,438.5 135.6,439.1 135.8,439.6 136.1,439.9 136.3,440.2 136.5,440.3 136.7,440.0 137.0,439.2 137.2,437.9 137.4,436.3 137.6,434.4 137.8,432.2 138.1,429.8 138.3,427.3 138.5,424.8 138.7,422.3 139.0,419.9 139.2,417.7 139.4,415.4 139.6,413.1 139.8,410.8 140.1,408.2 140.3,405.5 140.5,402.5 140.7,399.2 140.9,395.6 141.2,391.0 141.4,385.4 141.6,379.7 141.8,373.9 142.1,368.0 142.3,362.4 142.5,357.6 142.7,353.1 142.9,348.9 143.2,345.0 143.4,341.4 143.6,338.2 143.8,335.0 144.1,332.1 144.3,329.6 144.5,327.6 144.7,325.8 144.9,324.2 145.2,322.9 145.4,322.5 145.6,322.9 145.8,324.0 146.1,325.7 146.3,327.6 146.5,330.7 146.7,335.2 146.9,339.8 147.2,344.1 147.4,348.6 147.6,353.1 147.8,357.7 148.1,362.1 148.3,366.2 148.5,370.3 148.7,374.7 148.9,379.7 149.2,385.8 149.4,392.6 149.6,398.7 149.8,405.4 150.1,411.1 150.3,413.5 150.5,413.3 150.7,412.8 150.9,412.2 151.2,411.3 151.4,410.4 151.6,409.5 151.8,408.7 152.0,408.0 152.3,407.6 152.5,407.4 152.7,407.7 152.9,408.4 153.2,409.5 153.4,410.9 153.6,412.7 153.8,414.6 154.0,416.7 154.3,418.8 154.5,421.0 154.7,423.1 154.9,425.1 155.2,427.0 155.4,428.6 155.6,429.9 155.8,430.8 156.0,431.3 156.3,431.3 156.5,430.9 156.7,430.3 156.9,429.4 157.2,428.3 157.4,427.1 157.6,425.8 157.8,424.5 158.0,423.2 158.3,422.0 158.5,421.0 158.7,420.3 158.9,419.7 159.2,419.6 159.4,419.7 159.6,420.0 159.8,420.5 160.0,421.2 160.3,422.0 160.5,422.9 160.7,424.0 160.9,425.1 161.2,426.2 161.4,427.4 161.6,428.6 161.8,429.8 162.0,430.9 162.3,432.0 162.5,433.0 162.7,433.9 162.9,434.6 163.1,435.2 163.4,435.7 163.6,435.9 163.8,435.9 164.0,435.5 164.3,434.9 164.5,434.0 164.7,432.9 164.9,431.6 165.1,430.2 165.4,428.8 165.6,427.3 165.8,425.8 166.0,424.4 166.3,423.0 166.5,421.9 166.7,420.9 166.9,420.1 167.1,419.5 167.4,418.9 167.6,418.3 167.8,417.7 168.0,417.0 168.3,416.1 168.5,415.0 168.7,413.3 168.9,410.9 169.1,407.8 169.4,404.1 169.6,400.0 169.8,395.6 170.0,389.7 170.3,382.8 170.5,376.9 170.7,371.8 170.9,366.9 171.1,362.2 171.4,357.6 171.6,353.2 171.8,348.8 172.0,344.4 172.3,339.8 172.5,334.2 172.7,328.0 172.9,322.2 173.1,317.6 173.4,315.1 173.6,313.1 173.8,311.5 174.0,310.3 174.2,309.9 174.5,310.4 174.7,311.7 174.9,313.7 175.1,316.2 175.4,322.4 175.6,331.9 175.8,339.8 176.0,344.3 176.2,347.9 176.5,351.1 176.7,354.2 176.9,357.8 177.1,362.3 177.4,367.7 177.6,373.6 177.8,379.7 178.0,386.4 178.2,393.1 178.5,397.6 178.7,401.3 178.9,404.4 179.1,406.6 179.4,408.0 179.6,409.2 179.8,410.4 180.0,411.4 180.2,412.4 180.5,413.4 180.7,414.3 180.9,415.1 181.1,415.9 181.4,416.5 181.6,417.2 181.8,417.7 182.0,418.2 182.2,418.6 182.5,418.9 182.7,419.1 182.9,419.3 183.1,419.4 183.4,419.3 183.6,419.1 183.8,418.7 184.0,418.1 184.2,417.3 184.5,416.4 184.7,415.5 184.9,414.4 185.1,413.2 185.3,412.1 185.6,410.9 185.8,409.7 186.0,408.6 186.2,407.5 186.5,406.5 186.7,405.6 186.9,404.9 187.1,404.3 187.3,403.9 187.6,403.6 187.8,403.7 188.0,404.1 188.2,405.0 188.5,406.2 188.7,407.6 188.9,409.4 189.1,411.2 189.3,413.2 189.6,415.3 189.8,417.3 190.0,419.3 190.2,421.2 190.5,422.9 190.7,424.4 190.9,425.6 191.1,426.5 191.3,426.9 191.6,426.9 191.8,426.5 192.0,425.8 192.2,424.8 192.5,423.6 192.7,422.2 192.9,420.6 193.1,418.9 193.3,417.1 193.6,415.4 193.8,413.7 194.0,412.0 194.2,410.5 194.5,409.2 194.7,408.1 194.9,407.2 195.1,406.6 195.3,406.5 195.6,406.7 195.8,407.6 196.0,408.8 196.2,410.5 196.4,412.4 196.7,414.5 196.9,416.8 197.1,419.1 197.3,421.3 197.6,423.5 197.8,425.4 198.0,427.0 198.2,428.3 198.4,429.1 198.7,429.4 198.9,429.2 199.1,428.4 199.3,427.3 199.6,425.8 199.8,424.1 200.0,422.2 200.2,420.2 200.4,418.2 200.7,416.1 200.9,414.2 201.1,412.5 201.3,411.1 201.6,409.9 201.8,409.2 202.0,408.9 202.2,409.2 202.4,409.8 202.7,410.9 202.9,412.2 203.1,413.9 203.3,415.7 203.6,417.6 203.8,419.6 204.0,421.5 204.2,423.5 204.4,425.3 204.7,426.9 204.9,428.2 205.1,429.3 205.3,430.0 205.6,430.2 205.8,429.9 206.0,429.2 206.2,428.1 206.4,426.7 206.7,425.0 206.9,423.2 207.1,421.2 207.3,419.2 207.5,417.3 207.8,415.4 208.0,413.7 208.2,412.3 208.4,411.2 208.7,410.5 208.9,410.2 209.1,410.5 209.3,411.1 209.5,412.1 209.8,413.3 210.0,414.8 210.2,416.5 210.4,418.3 210.7,420.1 210.9,422.0 211.1,423.9 211.3,425.6 211.5,427.2 211.8,428.6 212.0,429.7 212.2,430.5 212.4,430.9 212.7,430.9 212.9,430.2 213.1,428.9 213.3,427.2 213.5,425.1 213.8,422.8 214.0,420.5 214.2,418.2 214.4,416.0 214.7,414.1 214.9,412.6 215.1,411.6 215.3,411.2 215.5,411.4 215.8,412.1 216.0,413.1 216.2,414.5 216.4,416.0 216.7,417.8 216.9,419.7 217.1,421.6 217.3,423.4 217.5,425.3 217.8,426.9 218.0,428.4 218.2,429.6 218.4,430.4 218.6,430.9 218.9,430.9 219.1,430.5 219.3,429.7 219.5,428.6 219.8,427.3 220.0,425.8 220.2,424.1 220.4,422.3 220.6,420.6 220.9,418.8 221.1,417.2 221.3,415.6 221.5,414.3 221.8,413.2 222.0,412.4 222.2,412.0 222.4,412.0 222.6,412.5 222.9,413.3 223.1,414.5 223.3,416.0 223.5,417.6 223.8,419.4 224.0,421.3 224.2,423.2 224.4,425.0 224.6,426.7 224.9,428.3 225.1,429.6 225.3,430.6 225.5,431.3 225.8,431.5 226.0,431.3 226.2,430.7 226.4,429.8 226.6,428.6 226.9,427.2 227.1,425.6 227.3,423.9 227.5,422.1 227.8,420.4 228.0,418.7 228.2,417.1 228.4,415.7 228.6,414.5 228.9,413.5 229.1,412.9 229.3,412.7 229.5,412.9 229.7,413.6 230.0,414.5 230.2,415.7 230.4,417.2 230.6,418.8 230.9,420.5 231.1,422.3 231.3,424.0 231.5,425.7 231.7,427.2 232.0,428.6 232.2,429.7 232.4,430.5 232.6,430.9 232.9,430.9 233.1,430.5 233.3,429.7 233.5,428.6 233.7,427.3 234.0,425.8 234.2,424.1 234.4,422.3 234.6,420.6 234.9,418.8 235.1,417.2 235.3,415.6 235.5,414.3 235.7,413.2 236.0,412.4 236.2,412.0 236.4,412.0 236.6,412.4 236.9,413.2 237.1,414.3 237.3,415.7 237.5,417.2 237.7,418.9 238.0,420.6 238.2,422.4 238.4,424.1 238.6,425.7 238.9,427.2 239.1,428.4 239.3,429.4 239.5,430.0 239.7,430.2 240.0,430.0 240.2,429.3 240.4,428.3 240.6,427.1 240.8,425.5 241.1,423.8 241.3,422.0 241.5,420.1 241.7,418.3 242.0,416.4 242.2,414.7 242.4,413.2 242.6,411.9 242.8,410.9 243.1,410.3 243.3,410.1 243.5,410.3 243.7,410.9 244.0,411.8 244.2,413.0 244.4,414.5 244.6,416.1 244.8,417.8 245.1,419.5 245.3,421.2 245.5,422.9 245.7,424.4 246.0,425.8 246.2,426.9 246.4,427.6 246.6,428.1 246.8,427.9 247.1,426.7 247.3,424.4 247.5,421.5 247.7,418.0 248.0,414.5 248.2,411.0 248.4,407.9 248.6,405.5 248.8,403.6 249.1,402.0 249.3,400.5 249.5,399.1 249.7,397.7 250.0,396.4 250.2,395.0 250.4,393.5 250.6,391.8 250.8,390.0 251.1,387.9 251.3,385.7 251.5,383.3 251.7,380.6 251.9,377.5 252.2,373.9 252.4,369.6 252.6,362.7 252.8,353.8 253.1,346.2 253.3,339.2 253.5,332.7 253.7,327.3 253.9,322.7 254.2,318.5 254.4,314.3 254.6,309.7 254.8,304.3 255.1,298.3 255.3,292.4 255.5,287.6 255.7,284.2 255.9,281.2 256.2,278.9 256.4,278.0 256.6,278.8 256.8,280.9 257.1,284.0 257.3,288.8 257.5,299.1 257.7,309.7 257.9,318.2 258.2,326.1 258.4,333.4 258.6,339.9 258.8,346.3 259.1,353.7 259.3,362.1 259.5,369.6 259.7,375.4 259.9,380.6 260.2,385.4 260.4,390.7 260.6,396.3 260.8,400.7 261.1,402.5 261.3,402.1 261.5,401.0 261.7,399.5 261.9,397.9 262.2,396.3 262.4,395.0 262.6,394.2 262.8,394.2 263.0,394.7 263.3,395.6 263.5,397.0 263.7,398.6 263.9,400.6 264.2,402.8 264.4,405.2 264.6,407.7 264.8,410.3 265.0,412.9 265.3,415.4 265.5,417.8 265.7,420.1 265.9,422.2 266.2,424.1 266.4,425.6 266.6,426.7 266.8,427.5 267.0,427.7 267.3,427.3 267.5,426.3 267.7,424.6 267.9,422.5 268.2,420.1 268.4,417.3 268.6,414.5 268.8,411.6 269.0,408.8 269.3,406.2 269.5,403.9 269.7,402.0 269.9,400.6 270.2,399.9 270.4,399.9 270.6,400.3 270.8,401.1 271.0,402.3 271.3,403.8 271.5,405.5 271.7,407.5 271.9,409.6 272.2,411.8 272.4,414.1 272.6,416.3 272.8,418.6 273.0,420.7 273.3,422.7 273.5,424.6 273.7,426.2 273.9,427.6 274.1,428.6 274.4,429.2 274.6,429.4 274.8,428.8 275.0,427.0 275.3,424.3 275.5,421.0 275.7,417.2 275.9,413.2 276.1,409.4 276.4,405.8 276.6,402.7 276.8,400.5 277.0,399.2 277.3,399.1 277.5,399.4 277.7,400.0 277.9,400.7 278.1,401.6 278.4,402.5 278.6,403.4 278.8,404.2 279.0,404.9 279.3,405.3 279.5,405.5 279.7,404.3 279.9,401.0 280.1,396.0 280.4,389.5 280.6,382.0 280.8,373.8 281.0,363.6 281.3,349.8 281.5,341.9 281.7,335.6 281.9,329.9 282.1,324.2 282.4,318.7 282.6,313.8 282.8,309.7 283.0,306.3 283.3,303.3 283.5,300.9 283.7,299.3 283.9,297.9 284.1,297.0 284.4,296.9 284.6,297.6 284.8,298.7 285.0,300.0 285.2,301.8 285.5,304.4 285.7,307.7 285.9,312.7 286.1,321.5 286.4,329.9 286.6,335.5 286.8,340.3 287.0,344.9 287.2,349.8 287.5,355.6 287.7,361.6 287.9,367.2 288.1,371.9 288.4,376.6 288.6,380.9 288.8,384.1 289.0,385.4 289.2,385.4 289.5,385.4 289.7,385.4 289.9,385.4 290.1,385.5 290.4,385.5 290.6,385.5 290.8,385.5 291.0,385.5 291.2,385.5 291.5,385.7 291.7,386.8 291.9,388.8 292.1,391.4 292.4,394.2 292.6,397.2 292.8,400.1 293.0,402.5 293.2,404.8 293.5,407.3 293.7,410.0 293.9,412.5 294.1,414.9 294.4,416.9 294.6,418.4 294.8,419.3 295.0,419.3 295.2,418.7 295.5,417.5 295.7,415.8 295.9,413.8 296.1,411.5 296.3,409.0 296.6,406.4 296.8,403.8 297.0,401.3 297.2,398.9 297.5,396.7 297.7,394.9 297.9,393.4 298.1,392.5 298.3,392.2 298.6,392.6 298.8,393.7 299.0,395.4 299.2,397.5 299.5,400.1 299.7,403.0 299.9,406.1 300.1,409.3 300.3,412.5 300.6,415.6 300.8,418.5 301.0,421.1 301.2,423.2 301.5,424.9 301.7,426.0 301.9,426.4 302.1,426.0 302.3,424.9 302.6,423.1 302.8,420.8 303.0,418.2 303.2,415.2 303.5,412.1 303.7,409.0 303.9,405.8 304.1,402.9 304.3,400.2 304.6,398.0 304.8,396.2 305.0,395.1 305.2,394.7 305.5,395.2 305.7,396.6 305.9,398.7 306.1,401.5 306.3,404.7 306.6,408.1 306.8,411.7 307.0,415.3 307.2,418.6 307.4,421.6 307.7,424.1 307.9,425.9 308.1,426.8 308.3,426.9 308.6,426.3 308.8,425.1 309.0,423.5 309.2,421.5 309.4,419.2 309.7,416.7 309.9,414.0 310.1,411.2 310.3,408.4 310.6,405.7 310.8,403.2 311.0,400.9 311.2,398.9 311.4,397.3 311.7,396.1 311.9,395.5 312.1,395.6 312.3,396.5 312.6,398.3 312.8,400.8 313.0,403.8 313.2,407.1 313.4,410.6 313.7,414.1 313.9,417.6 314.1,420.8 314.3,423.5 314.6,425.6 314.8,427.0 315.0,427.5 315.2,427.2 315.4,426.3 315.7,424.8 315.9,422.9 316.1,420.6 316.3,418.1 316.6,415.4 316.8,412.6 317.0,409.7 317.2,407.0 317.4,404.3 317.7,401.9 317.9,399.8 318.1,398.1 318.3,396.9 318.5,396.3 318.8,396.3 319.0,397.3 319.2,399.0 319.4,401.4 319.7,404.3 319.9,407.6 320.1,411.0 320.3,414.5 320.5,417.8 320.8,420.9 321.0,423.6 321.2,425.7 321.4,427.0 321.7,427.5 321.9,427.2 322.1,426.4 322.3,425.0 322.5,423.3 322.8,421.2 323.0,418.8 323.2,416.3 323.4,413.6 323.7,410.9 323.9,408.2 324.1,405.7 324.3,403.3 324.5,401.2 324.8,399.5 325.0,398.1 325.2,397.3 325.4,397.0 325.7,397.4 325.9,398.8 326.1,400.8 326.3,403.4 326.5,406.4 326.8,409.7 327.0,413.1 327.2,416.4 327.4,419.6 327.7,422.4 327.9,424.8 328.1,426.5 328.3,427.4 328.5,427.5 328.8,426.9 329.0,425.7 329.2,424.2 329.4,422.2 329.6,420.0 329.9,417.5 330.1,414.9 330.3,412.2 330.5,409.6 330.8,406.9 331.0,404.5 331.2,402.2 331.4,400.3 331.6,398.7 331.9,397.6 332.1,397.0 332.3,397.0 332.5,397.7 332.8,398.8 333.0,400.5 333.2,402.5 333.4,404.9 333.6,407.5 333.9,410.2 334.1,412.9 334.3,415.7 334.5,418.3 334.8,420.8 335.0,423.0 335.2,424.9 335.4,426.3 335.6,427.2 335.9,427.5 336.1,427.0 336.3,425.6 336.5,423.5 336.8,420.8 337.0,417.6 337.2,414.1 337.4,410.6 337.6,407.1 337.9,403.8 338.1,400.8 338.3,398.3 338.5,396.5 338.8,395.6 339.0,395.5 339.2,396.1 339.4,397.2 339.6,398.7 339.9,400.6 340.1,402.8 340.3,405.3 340.5,407.8 340.7,410.5 341.0,413.2 341.2,415.9 341.4,418.4 341.6,420.7 341.9,422.8 342.1,424.5 342.3,425.8 342.5,426.7 342.7,427.0 343.0,426.5 343.2,425.0 343.4,422.8 343.6,420.0 343.9,416.8 344.1,413.3 344.3,409.6 344.5,406.0 344.7,402.6 345.0,399.6 345.2,397.1 345.4,395.2 345.6,394.2 345.9,394.2 346.1,394.8 346.3,396.0 346.5,397.7 346.7,399.8 347.0,402.2 347.2,404.9 347.4,407.6 347.6,410.5 347.9,413.3 348.1,416.0 348.3,418.6 348.5,420.8 348.7,422.7 349.0,424.2 349.2,425.1 349.4,425.5 349.6,424.9 349.9,423.5 350.1,421.3 350.3,418.5 350.5,415.3 350.7,411.7 351.0,408.1 351.2,404.5 351.4,401.1 351.6,398.1 351.8,395.5 352.1,393.7 352.3,392.7 352.5,392.7 352.7,393.2 353.0,394.3 353.2,395.8 353.4,397.6 353.6,399.7 353.8,402.0 354.1,404.5 354.3,407.0 354.5,409.5 354.7,411.9 355.0,414.1 355.2,416.1 355.4,417.7 355.6,419.0 355.8,419.8 356.1,420.1 356.3,419.6 356.5,418.1 356.7,415.9 357.0,413.0 357.2,409.7 357.4,406.1 357.6,402.3 357.8,398.5 358.1,394.9 358.3,391.6 358.5,388.8 358.7,386.7 359.0,385.3 359.2,384.8 359.4,384.5 359.6,384.3 359.8,384.1 360.1,384.0 360.3,383.9 360.5,383.8 360.7,383.6 361.0,383.3 361.2,382.9 361.4,382.1 361.6,379.2 361.8,374.9 362.1,370.2 362.3,365.1 362.5,359.1 362.7,352.3 362.9,344.7 363.2,335.0 363.4,324.8 363.6,316.7 363.8,309.0 364.1,299.9 364.3,289.3 364.5,281.1 364.7,274.0 364.9,267.9 365.2,263.0 365.4,259.4 365.6,256.1 365.8,253.4 366.1,251.8 366.3,251.8 366.5,253.2 366.7,255.8 366.9,259.2 367.2,264.3 367.4,274.8 367.6,284.8 367.8,291.3 368.1,296.8 368.3,302.0 368.5,307.6 368.7,313.2 368.9,318.8 369.2,324.7 369.4,330.8 369.6,337.2 369.8,344.7 370.1,353.8 370.3,365.6 370.5,389.0 370.7,405.5 370.9,404.3 371.2,401.4 371.4,397.3 371.6,392.8 371.8,388.7 372.1,385.8 372.3,384.6 372.5,384.8 372.7,385.5 372.9,386.6 373.2,388.0 373.4,389.7 373.6,391.7 373.8,393.9 374.0,396.4 374.3,398.9 374.5,401.6 374.7,404.3 374.9,407.1 375.2,409.8 375.4,412.5 375.6,415.0 375.8,417.4 376.0,419.7 376.3,421.7 376.5,423.4 376.7,424.8 376.9,425.9 377.2,426.5 377.4,426.8 377.6,426.5 377.8,425.6 378.0,424.2 378.3,422.5 378.5,420.6 378.7,418.5 378.9,416.5 379.2,414.5 379.4,412.8 379.6,411.5 379.8,410.6 380.0,410.2 380.3,410.6 380.5,411.6 380.7,413.0 380.9,414.9 381.2,416.9 381.4,419.1 381.6,421.2 381.8,423.1 382.0,424.8 382.3,426.0 382.5,426.7 382.7,426.7 382.9,426.1 383.2,425.0 383.4,423.4 383.6,421.3 383.8,419.0 384.0,416.3 384.3,413.4 384.5,410.4 384.7,407.3 384.9,404.1 385.1,401.0 385.4,397.9 385.6,395.1 385.8,392.4 386.0,390.0 386.3,388.0 386.5,386.4 386.7,385.3 386.9,384.7 387.1,384.7 387.4,385.8 387.6,387.6 387.8,390.0 388.0,392.7 388.3,395.5 388.5,398.2 388.7,400.6 388.9,402.4 389.1,403.5 389.4,403.3 389.6,400.9 389.8,396.9 390.0,391.9 390.3,386.7 390.5,381.9 390.7,377.9 390.9,373.8 391.1,368.7 391.4,361.3 391.6,348.8 391.8,334.8 392.0,323.6 392.3,315.8 392.5,308.8 392.7,300.2 392.9,289.8 393.1,281.1 393.4,274.7 393.6,269.1 393.8,264.3 394.0,260.6 394.3,257.9 394.5,255.6 394.7,253.5 394.9,252.1 395.1,251.6 395.4,252.0 395.6,253.3 395.8,255.2 396.0,257.7 396.2,261.9 396.5,271.5 396.7,281.0 396.9,287.4 397.1,292.7 397.4,298.1 397.6,304.8 397.8,313.8 398.0,324.9 398.2,339.8 398.5,351.9 398.7,359.7 398.9,366.2 399.1,373.0 399.4,380.2 399.6,384.6 399.8,386.1 400.0,387.3 400.2,388.1 400.5,388.8 400.7,389.3 400.9,389.8 401.1,390.4 401.4,391.2 401.6,392.2 401.8,393.6 402.0,395.5 402.2,397.7 402.5,400.1 402.7,402.8 402.9,405.5 403.1,408.3 403.4,410.9 403.6,413.4 403.8,415.7 404.0,417.6 404.2,419.0 404.5,420.0 404.7,420.3 404.9,420.1 405.1,419.3 405.4,418.2 405.6,416.7 405.8,415.0 406.0,413.0 406.2,410.9 406.5,408.7 406.7,406.5 406.9,404.3 407.1,402.3 407.3,400.4 407.6,398.8 407.8,397.5 408.0,396.6 408.2,396.1 408.5,396.1 408.7,397.0 408.9,398.6 409.1,400.7 409.3,403.4 409.6,406.4 409.8,409.6 410.0,412.8 410.2,416.0 410.5,419.0 410.7,421.6 410.9,423.8 411.1,425.4 411.3,426.3 411.6,426.3 411.8,425.7 412.0,424.5 412.2,422.9 412.5,420.8 412.7,418.4 412.9,415.8 413.1,413.1 413.3,410.3 413.6,407.4 413.8,404.7 414.0,402.1 414.2,399.7 414.5,397.6 414.7,396.0 414.9,394.8 415.1,394.2 415.3,394.2 415.6,395.3 415.8,397.1 416.0,399.7 416.2,402.9 416.5,406.4 416.7,410.1 416.9,413.8 417.1,417.4 417.3,420.8 417.6,423.7 417.8,425.9 418.0,427.4 418.2,427.9 418.4,427.6 418.7,426.7 418.9,425.3 419.1,423.4 419.3,421.2 419.6,418.7 419.8,416.0 420.0,413.2 420.2,410.3 420.4,407.5 420.7,404.9 420.9,402.4 421.1,400.1 421.3,398.3 421.6,396.9 421.8,395.9 422.0,395.6 422.2,396.1 422.4,397.6 422.7,399.8 422.9,402.7 423.1,406.0 423.3,409.6 423.6,413.3 423.8,416.9 424.0,420.4 424.2,423.5 424.4,426.0 424.7,427.9 424.9,428.9 425.1,429.0 425.3,428.3 425.6,427.1 425.8,425.5 426.0,423.4 426.2,421.0 426.4,418.4 426.7,415.6 426.9,412.7 427.1,409.8 427.3,407.1 427.6,404.4 427.8,402.0 428.0,400.0 428.2,398.3 428.4,397.1 428.7,396.5 428.9,396.5 429.1,397.4 429.3,399.0 429.5,401.2 429.8,403.9 430.0,406.9 430.2,410.2 430.4,413.6 430.7,416.9 430.9,420.1 431.1,423.0 431.3,425.4 431.5,427.4 431.8,428.6 432.0,429.1 432.2,428.7 432.4,427.7 432.7,426.1 432.9,424.0 433.1,421.6 433.3,418.8 433.5,415.9 433.8,412.9 434.0,409.9 434.2,407.0 434.4,404.3 434.7,401.8 434.9,399.7 435.1,398.1 435.3,397.1 435.5,396.8 435.8,397.2 436.0,398.4 436.2,400.3 436.4,402.6 436.7,405.4 436.9,408.5 437.1,411.7 437.3,415.0 437.5,418.1 437.8,421.1 438.0,423.7 438.2,425.8 438.4,427.4 438.7,428.2 438.9,428.2 439.1,427.6 439.3,426.5 439.5,424.9 439.8,422.9 440.0,420.6 440.2,418.1 440.4,415.4 440.6,412.7 440.9,409.9 441.1,407.1 441.3,404.5 441.5,402.1 441.8,400.0 442.0,398.2 442.2,396.8 442.4,395.9 442.6,395.6 442.9,396.0 443.1,397.1 443.3,398.8 443.5,401.0 443.8,403.5 444.0,406.3 444.2,409.3 444.4,412.3 444.6,415.3 444.9,418.1 445.1,420.7 445.3,422.9 445.5,424.5 445.8,425.6 446.0,426.0 446.2,425.7 446.4,424.7 446.6,423.2 446.9,421.3 447.1,419.0 447.3,416.4 447.5,413.7 447.8,410.8 448.0,408.0 448.2,405.2 448.4,402.7 448.6,400.4 448.9,398.4 449.1,396.9 449.3,396.0 449.5,395.6 449.8,396.0 450.0,397.2 450.2,398.9 450.4,401.2 450.6,403.9 450.9,406.8 451.1,409.9 451.3,413.0 451.5,416.0 451.7,418.8 452.0,421.2 452.2,423.3 452.4,424.7 452.6,425.5 452.9,425.6 453.1,424.9 453.3,423.7 453.5,422.1 453.7,420.1 454.0,417.7 454.2,415.1 454.4,412.4 454.6,409.6 454.9,406.9 455.1,404.2 455.3,401.8 455.5,399.6 455.7,397.7 456.0,396.3 456.2,395.4 456.4,395.1 456.6,395.5 456.9,396.7 457.1,398.6 457.3,401.0 457.5,403.7 457.7,406.8 458.0,410.0 458.2,413.1 458.4,416.2 458.6,419.0 458.9,421.4 459.1,423.2 459.3,424.4 459.5,424.9 459.7,424.5 460.0,423.6 460.2,422.1 460.4,420.1 460.6,417.8 460.9,415.2 461.1,412.4 461.3,409.6 461.5,406.6 461.7,403.8 462.0,401.1 462.2,398.6 462.4,396.5 462.6,394.8 462.8,393.5 463.1,392.9 463.3,392.9 463.5,393.5 463.7,394.6 464.0,396.2 464.2,398.1 464.4,400.4 464.6,402.7 464.8,405.2 465.1,407.7 465.3,410.1 465.5,412.3 465.7,414.2 466.0,415.8 466.2,417.0 466.4,417.6 466.6,417.6 466.8,417.2 467.1,416.4 467.3,415.2 467.5,413.8 467.7,412.1 468.0,410.1 468.2,408.0 468.4,405.8 468.6,403.4 468.8,401.0 469.1,398.6 469.3,396.2 469.5,393.9 469.7,391.6 470.0,389.6 470.2,387.7 470.4,386.0 470.6,384.6 470.8,383.5 471.1,382.5 471.3,381.6 471.5,380.6 471.7,379.5 472.0,378.3 472.2,377.0 472.4,375.6 472.6,373.7 472.8,371.2 473.1,366.3 473.3,354.9 473.5,345.2 473.7,336.5 473.9,329.9 474.2,325.5 474.4,322.1 474.6,319.1 474.8,316.0 475.1,312.4 475.3,307.3 475.5,301.5 475.7,296.8 475.9,294.3 476.2,292.5 476.4,291.2 476.6,290.7 476.8,291.4 477.1,293.1 477.3,295.3 477.5,299.4 477.7,305.7 477.9,312.4 478.2,319.0 478.4,326.2 478.6,333.5 478.8,340.8 479.1,349.6 479.3,363.4 479.5,373.6 479.7,380.9 479.9,386.9 480.2,391.9 480.4,396.3 480.6,400.9 480.8,404.4 481.1,405.9 481.3,405.6 481.5,404.8 481.7,403.8 481.9,402.6 482.2,401.3 482.4,400.3 482.6,399.5 482.8,399.2 483.1,399.5 483.3,400.2 483.5,401.3 483.7,402.7 483.9,404.4 484.2,406.4 484.4,408.5 484.6,410.8 484.8,413.1 485.0,415.5 485.3,417.9 485.5,420.2 485.7,422.3 485.9,424.3 486.2,426.0 486.4,427.4 486.6,428.5 486.8,429.2 487.0,429.4 487.3,429.2 487.5,428.5 487.7,427.5 487.9,426.2 488.2,424.6 488.4,422.9 488.6,421.1 488.8,419.2 489.0,417.4 489.3,415.6 489.5,414.1 489.7,412.8 489.9,411.7 490.2,411.1 490.4,410.8 490.6,411.0 490.8,411.6 491.0,412.5 491.3,413.6 491.5,415.0 491.7,416.5 491.9,418.1 492.2,419.7 492.4,421.3 492.6,422.9 492.8,424.3 493.0,425.5 493.3,426.6 493.5,427.3 493.7,427.7 493.9,427.6 494.2,426.7 494.4,425.0 494.6,422.6 494.8,419.7 495.0,416.4 495.3,412.8 495.5,409.1 495.7,405.4 495.9,401.8 496.1,398.5 496.4,395.6 496.6,393.2 496.8,391.5 497.0,390.6 497.3,390.6 497.5,391.2 497.7,392.4 497.9,393.9 498.1,395.7 498.4,397.7 498.6,399.7 498.8,401.6 499.0,403.3 499.3,404.6 499.5,405.6 499.7,405.9 499.9,405.3 500.1,403.7 500.4,401.1 500.6,397.4 500.8,392.7 501.0,387.1 501.3,380.6 501.5,369.7 501.7,349.6 501.9,339.4 502.1,329.9 502.4,315.6 502.6,305.7 502.8,298.9 503.0,293.6 503.3,290.0 503.5,287.2 503.7,284.6 503.9,282.3 504.1,280.4 504.4,278.9 504.6,278.0 504.8,277.6 505.0,277.9 505.3,278.7 505.5,280.0 505.7,281.8 505.9,284.0 506.1,286.8 506.4,290.0 506.6,298.5 506.8,309.7 507.0,318.3 507.2,326.2 507.5,333.3 507.7,339.4 507.9,345.8 508.1,355.0 508.4,365.6 508.6,369.8 508.8,372.6 509.0,375.3 509.2,379.2 509.5,384.5 509.7,389.9 509.9,394.1 510.1,397.1 510.4,399.8 510.6,402.2 510.8,404.3 511.0,406.3 511.2,408.2 511.5,410.1 511.7,412.0 511.9,414.0 512.1,416.1 512.4,418.3 512.6,420.4 512.8,422.5 513.0,424.4 513.2,426.1 513.5,427.6 513.7,428.8 513.9,429.7 514.1,430.1 514.4,430.1 514.6,429.6 514.8,428.7 515.0,427.3 515.2,425.8 515.5,424.0 515.7,422.1 515.9,420.2 516.1,418.4 516.4,416.7 516.6,415.3 516.8,414.1 517.0,413.4 517.2,413.1 517.5,413.4 517.7,414.4 517.9,415.9 518.1,417.7 518.3,419.8 518.6,422.0 518.8,424.3 519.0,426.5 519.2,428.5 519.5,430.1 519.7,431.3 519.9,432.0 520.1,432.0 520.3,431.5 520.6,430.6 520.8,429.3 521.0,427.8 521.2,426.0 521.5,424.1 521.7,422.1 521.9,420.1 522.1,418.2 522.3,416.5 522.6,414.9 522.8,413.6 523.0,412.7 523.2,412.2 523.5,412.2 523.7,412.7 523.9,413.7 524.1,415.0 524.3,416.5 524.6,418.3 524.8,420.3 525.0,422.3 525.2,424.3 525.5,426.3 525.7,428.1 525.9,429.7 526.1,431.0 526.3,431.9 526.6,432.4 526.8,432.4 527.0,431.9 527.2,431.0 527.5,429.6 527.7,428.0 527.9,426.2 528.1,424.3 528.3,422.2 528.6,420.2 528.8,418.2 529.0,416.4 529.2,414.8 529.4,413.5 529.7,412.5 529.9,412.0 530.1,412.0 530.3,412.5 530.6,413.5 530.8,414.8 531.0,416.5 531.2,418.3 531.4,420.3 531.7,422.4 531.9,424.5 532.1,426.5 532.3,428.3 532.6,430.0 532.8,431.3 533.0,432.3 533.2,432.8 533.4,432.8 533.7,432.3 533.9,431.3 534.1,429.9 534.3,428.3 534.6,426.4 534.8,424.3 535.0,422.2 535.2,420.1 535.4,418.1 535.7,416.2 535.9,414.5 536.1,413.2 536.3,412.2 536.6,411.6 536.8,411.6 537.0,412.2 537.2,413.1 537.4,414.5 537.7,416.1 537.9,417.9 538.1,420.0 538.3,422.0 538.6,424.1 538.8,426.1 539.0,428.0 539.2,429.6 539.4,430.9 539.7,431.9 539.9,432.4 540.1,432.4 540.3,431.9 540.5,430.9 540.8,429.6 541.0,428.0 541.2,426.1 541.4,424.1 541.7,422.0 541.9,420.0 542.1,417.9 542.3,416.1 542.5,414.5 542.8,413.1 543.0,412.2 543.2,411.6 543.4,411.6 543.7,412.2 543.9,413.1 544.1,414.4 544.3,416.0 544.5,417.8 544.8,419.8 545.0,421.8 545.2,423.9 545.4,425.8 545.7,427.7 545.9,429.3 546.1,430.6 546.3,431.5 546.5,432.0 546.8,432.0 547.0,431.5 547.2,430.5 547.4,429.2 547.7,427.5 547.9,425.6 548.1,423.6 548.3,421.5 548.5,419.3 548.8,417.3 549.0,415.4 549.2,413.8 549.4,412.4 549.7,411.4 549.9,410.9 550.1,410.9 550.3,411.4 550.5,412.3 550.8,413.6 551.0,415.2 551.2,417.0 551.4,419.0 551.6,421.0 551.9,423.0 552.1,425.0 552.3,426.8 552.5,428.3 552.8,429.6 553.0,430.6 553.2,431.1 553.4,431.1 553.6,430.6 553.9,429.6 554.1,428.3 554.3,426.6 554.5,424.8 554.8,422.8 555.0,420.7 555.2,418.6 555.4,416.6 555.6,414.8 555.9,413.1 556.1,411.8 556.3,410.8 556.5,410.3 556.8,410.3 557.0,410.8 557.2,411.7 557.4,413.0 557.6,414.6 557.9,416.3 558.1,418.2 558.3,420.2 558.5,422.2 558.8,424.1 559.0,425.9 559.2,427.4 559.4,428.7 559.6,429.6 559.9,430.1 560.1,430.1 560.3,429.6 560.5,428.6 560.8,427.2 561.0,425.5 561.2,423.5 561.4,421.4 561.6,419.3 561.9,417.1 562.1,415.0 562.3,413.1 562.5,411.4 562.7,410.0 563.0,409.0 563.2,408.4 563.4,408.4 563.6,408.9 563.9,409.8 564.1,411.1 564.3,412.7 564.5,414.4 564.7,416.3 565.0,418.3 565.2,420.3 565.4,422.2 565.6,424.0 565.9,425.5 566.1,426.8 566.3,427.7 566.5,428.2 566.7,428.2 567.0,427.7 567.2,426.6 567.4,425.2 567.6,423.4 567.9,421.4 568.1,419.2 568.3,416.9 568.5,414.6 568.7,412.4 569.0,410.4 569.2,408.6 569.4,407.2 569.6,406.1 569.9,405.6 570.1,405.6 570.3,406.0 570.5,406.8 570.7,407.9 571.0,409.2 571.2,410.7 571.4,412.4 571.6,414.0 571.9,415.7 572.1,417.4 572.3,418.9 572.5,420.2 572.7,421.3 573.0,422.1 573.2,422.5 573.4,422.5 573.6,422.0 573.8,421.1 574.1,419.7 574.3,418.1 574.5,416.2 574.7,414.2 575.0,412.2 575.2,410.1 575.4,408.1 575.6,406.2 575.8,404.6 576.1,403.2 576.3,402.3 576.5,401.8 576.7,401.7 577.0,401.9 577.2,402.2 577.4,402.5 577.6,403.0 577.8,403.5 578.1,404.0 578.3,404.4 578.5,404.9 578.7,405.2 579.0,405.4 579.2,405.5 579.4,405.2 579.6,404.5 579.8,403.4 580.1,401.9 580.3,400.3 580.5,398.5 580.7,396.6 581.0,394.8 581.2,393.1 581.4,391.5 581.6,390.3 581.8,389.4 582.1,388.7 582.3,387.9 582.5,386.8 582.7,384.9 583.0,380.5 583.2,374.9 583.4,370.0 583.6,366.0 583.8,362.3 584.1,358.7 584.3,355.2 584.5,351.7 584.7,348.3 584.9,345.1 585.2,342.0 585.4,338.8 585.6,335.5 585.8,332.0 586.1,327.9 586.3,322.7 586.5,317.9 586.7,314.8 586.9,312.2 587.2,310.3 587.4,309.6 587.6,310.3 587.8,312.3 588.1,314.9 588.3,317.6 588.5,320.7 588.7,324.8 588.9,330.1 589.2,339.0 589.4,350.0 589.6,360.3 589.8,370.0 590.1,378.8 590.3,387.3 590.5,394.6 590.7,400.0 590.9,403.9 591.2,407.5 591.4,410.7 591.6,413.4 591.8,415.8 592.1,417.8 592.3,419.5 592.5,420.7 592.7,422.0 592.9,423.1 593.2,424.3 593.4,425.4 593.6,426.4 593.8,427.4 594.1,428.4 594.3,429.3 594.5,430.2 594.7,431.0 594.9,431.7 595.2,432.4 595.4,433.0 595.6,433.6 595.8,434.1 596.0,434.5 596.3,434.9 596.5,435.2 596.7,435.4 596.9,435.5 597.2,435.5 597.4,435.3 597.6,434.6 597.8,433.5 598.0,432.2 598.3,430.6 598.5,429.0 598.7,427.3 598.9,425.6 599.2,424.0 599.4,422.7 599.6,421.6 599.8,420.9 600.0,420.7 600.3,420.8 600.5,421.1 600.7,421.6 600.9,422.2 601.2,422.9 601.4,423.7 601.6,424.5 601.8,425.4 602.0,426.3 602.3,427.2 602.5,428.0 602.7,428.8 602.9,429.4 603.2,430.0 603.4,430.3 603.6,430.6 603.8,430.5 604.0,430.2 604.3,429.6 604.5,428.8 604.7,427.8 604.9,426.7 605.2,425.4 605.4,424.1 605.6,422.8 605.8,421.6 606.0,420.4 606.3,419.4 606.5,418.5 606.7,417.9 606.9,417.4 607.1,416.9 607.4,416.6 607.6,416.3 607.8,416.0 608.0,415.7 608.3,415.4 608.5,415.2 608.7,414.8 608.9,414.5 609.1,414.1 609.4,413.6 609.6,413.1 609.8,412.5 610.0,411.8 610.3,411.0 610.5,410.0 610.7,408.8 610.9,407.3 611.1,405.6 611.4,403.6 611.6,399.5 611.8,392.9 612.0,386.1 612.3,379.7 612.5,373.1 612.7,366.9 612.9,361.0 613.1,355.3 613.4,350.0 613.6,345.2 613.8,340.6 614.0,336.2 614.3,332.1 614.5,328.0 614.7,323.9 614.9,321.0 615.1,319.0 615.4,317.6 615.6,317.0 615.8,317.4 616.0,318.6 616.3,320.1 616.5,321.9 616.7,324.7 616.9,328.1 617.1,332.2 617.4,337.4 617.6,343.4 617.8,350.0 618.0,357.5 618.2,365.9 618.5,374.2 618.7,382.7 618.9,389.1 619.1,394.8 619.4,400.0 619.6,404.7 619.8,408.8 620.0,412.3 620.2,415.0 620.5,417.2 620.7,419.1 620.9,420.8 621.1,422.3 621.4,423.7 621.6,425.0 621.8,426.2 622.0,427.4 622.2,428.6 622.5,429.8 622.7,431.1 622.9,432.5 623.1,433.9 623.4,435.3 623.6,436.7 623.8,437.9 624.0,438.9 624.2,439.7 624.5,440.3 624.7,440.5 624.9,440.4 625.1,440.1 625.4,439.6 625.6,439.0 625.8,438.3 626.0,437.5 626.2,436.7 626.5,435.8 626.7,435.0 626.9,434.1 627.1,433.3 627.4,432.5 627.6,431.9 627.8,431.4 628.0,431.0 628.2,430.8 628.5,430.8 628.7,431.1 628.9,431.6 629.1,432.4 629.3,433.3 629.6,434.3 629.8,435.3 630.0,436.4 630.2,437.5 630.5,438.4 630.7,439.2 630.9,439.9 631.1,440.3 631.3,440.5 631.6,440.3 631.8,440.0 632.0,439.5 632.2,438.9 632.5,438.1 632.7,437.2 632.9,436.3 633.1,435.3 633.3,434.4 633.6,433.4 633.8,432.6 634.0,431.8 634.2,431.1 634.5,430.6 634.7,430.3 634.9,430.2 635.1,430.3 635.3,430.7 635.6,431.2 635.8,431.9 636.0,432.7 636.2,433.5 636.5,434.5 636.7,435.4 636.9,436.4 637.1,437.2 637.3,438.0 637.6,438.7 637.8,439.2 638.0,439.6 638.2,439.7 638.5,439.6 638.7,439.2 638.9,438.6 639.1,437.9 639.3,437.1 639.6,436.1 639.8,435.1 640.0,434.0 640.2,432.9 640.4,431.9 640.7,430.9 640.9,430.1 641.1,429.4 641.3,428.8 641.6,428.4 641.8,428.3 642.0,428.4 642.2,428.8 642.4,429.4 642.7,430.1 642.9,431.0 643.1,431.9 643.3,432.9 643.6,433.8 643.8,434.8 644.0,435.6 644.2,436.3 644.4,436.9 644.7,437.3 644.9,437.4 645.1,437.3 645.3,437.0 645.6,436.6 645.8,436.0 646.0,435.3 646.2,434.5 646.4,433.6 646.7,432.7 646.9,431.7 647.1,430.7 647.3,429.7 647.6,428.7 647.8,427.7 648.0,426.8 648.2,426.0 648.4,425.3 648.7,424.7 648.9,424.3 649.1,424.0 649.3,423.9 649.6,424.1 649.8,424.4 650.0,425.0 650.2,425.7 650.4,426.5 650.7,427.5 650.9,428.5 651.1,429.5 651.3,430.5 651.5,431.4 651.8,432.2 652.0,433.0 652.2,433.5 652.4,433.9 652.7,434.0 652.9,434.0 653.1,434.0 653.3,434.0 653.5,434.0 653.8,433.9 654.0,433.9 654.2,433.8 654.4,433.7 654.7,433.6 654.9,433.4 655.1,433.3 655.3,433.0 655.5,432.8 655.8,432.5 656.0,432.1" fill="none" stroke="#ff0000" stroke-width="3" stroke-linejoin="round"/></g>
<g fill="#0000ff" clip-path="url(#ca)"><circle cx="101.0" cy="206.6" r="2.75"/><circle cx="101.9" cy="215.1" r="2.75"/><circle cx="103.1" cy="208.1" r="2.75"/><circle cx="104.5" cy="207.6" r="2.75"/><circle cx="105.5" cy="208.7" r="2.75"/><circle cx="106.7" cy="207.7" r="2.75"/><circle cx="107.6" cy="210.6" r="2.75"/><circle cx="108.7" cy="207.5" r="2.75"/><circle cx="109.7" cy="211.1" r="2.75"/><circle cx="110.8" cy="210.9" r="2.75"/><circle cx="112.2" cy="211.0" r="2.75"/><circle cx="113.2" cy="205.9" r="2.75"/><circle cx="114.6" cy="217.4" r="2.75"/><circle cx="115.4" cy="211.6" r="2.75"/><circle cx="116.3" cy="209.0" r="2.75"/><circle cx="117.4" cy="214.3" r="2.75"/><circle cx="118.9" cy="201.7" r="2.75"/><circle cx="120.1" cy="207.3" r="2.75"/><circle cx="121.0" cy="216.5" r="2.75"/><circle cx="121.8" cy="209.5" r="2.75"/><circle cx="123.4" cy="212.6" r="2.75"/><circle cx="124.2" cy="213.7" r="2.75"/><circle cx="125.4" cy="209.5" r="2.75"/><circle cx="126.7" cy="211.9" r="2.75"/><circle cx="127.8" cy="206.3" r="2.75"/><circle cx="128.9" cy="213.2" r="2.75"/><circle cx="130.0" cy="211.9" r="2.75"/><circle cx="130.7" cy="214.2" r="2.75"/><circle cx="132.3" cy="210.0" r="2.75"/><circle cx="133.2" cy="211.2" r="2.75"/><circle cx="134.0" cy="208.8" r="2.75"/><circle cx="135.5" cy="214.3" r="2.75"/><circle cx="136.4" cy="211.8" r="2.75"/><circle cx="137.7" cy="206.9" r="2.75"/><circle cx="139.0" cy="208.9" r="2.75"/><circle cx="139.8" cy="211.1" r="2.75"/><circle cx="140.9" cy="206.9" r="2.75"/><circle cx="141.8" cy="206.3" r="2.75"/><circle cx="143.4" cy="215.3" r="2.75"/><circle cx="144.5" cy="210.2" r="2.75"/><circle cx="145.2" cy="206.9" r="2.75"/><circle cx="146.3" cy="211.1" r="2.75"/><circle cx="147.4" cy="201.9" r="2.75"/><circle cx="148.5" cy="202.1" r="2.75"/><circle cx="149.7" cy="194.6" r="2.75"/><circle cx="150.8" cy="175.6" r="2.75"/><circle cx="151.8" cy="165.0" r="2.75"/><circle cx="153.1" cy="134.3" r="2.75"/><circle cx="154.3" cy="108.6" r="2.75"/><circle cx="155.5" cy="93.1" r="2.75"/><circle cx="156.5" cy="83.1" r="2.75"/><circle cx="157.7" cy="76.9" r="2.75"/><circle cx="158.6" cy="75.1" r="2.75"/><circle cx="159.7" cy="77.0" r="2.75"/><circle cx="160.8" cy="76.1" r="2.75"/><circle cx="161.8" cy="77.5" r="2.75"/><circle cx="163.3" cy="83.0" r="2.75"/><circle cx="164.1" cy="91.1" r="2.75"/><circle cx="165.3" cy="111.7" r="2.75"/><circle cx="166.5" cy="145.7" r="2.75"/><circle cx="167.8" cy="159.9" r="2.75"/><circle cx="168.6" cy="159.5" r="2.75"/><circle cx="169.7" cy="169.8" r="2.75"/><circle cx="170.8" cy="174.9" r="2.75"/><circle cx="171.9" cy="183.0" r="2.75"/><circle cx="173.2" cy="182.7" r="2.75"/><circle cx="174.4" cy="186.2" r="2.75"/><circle cx="175.5" cy="192.2" r="2.75"/><circle cx="176.7" cy="194.1" r="2.75"/><circle cx="177.6" cy="195.9" r="2.75"/><circle cx="178.7" cy="186.8" r="2.75"/><circle cx="179.6" cy="193.8" r="2.75"/><circle cx="181.1" cy="196.6" r="2.75"/><circle cx="182.2" cy="194.1" r="2.75"/><circle cx="182.9" cy="200.9" r="2.75"/><circle cx="184.2" cy="199.4" r="2.75"/><circle cx="185.5" cy="201.2" r="2.75"/><circle cx="186.4" cy="191.5" r="2.75"/><circle cx="187.8" cy="197.8" r="2.75"/><circle cx="188.9" cy="198.9" r="2.75"/><circle cx="189.9" cy="200.1" r="2.75"/><circle cx="190.8" cy="198.5" r="2.75"/><circle cx="192.3" cy="197.2" r="2.75"/><circle cx="193.4" cy="199.3" r="2.75"/><circle cx="194.2" cy="200.9" r="2.75"/><circle cx="195.3" cy="200.2" r="2.75"/><circle cx="196.5" cy="200.1" r="2.75"/><circle cx="197.6" cy="197.7" r="2.75"/><circle cx="198.6" cy="205.8" r="2.75"/><circle cx="199.7" cy="196.0" r="2.75"/><circle cx="201.1" cy="200.7" r="2.75"/><circle cx="201.9" cy="189.9" r="2.75"/><circle cx="203.3" cy="205.9" r="2.75"/><circle cx="204.4" cy="200.9" r="2.75"/><circle cx="205.3" cy="200.6" r="2.75"/><circle cx="206.2" cy="196.3" r="2.75"/><circle cx="207.5" cy="211.9" r="2.75"/><circle cx="208.5" cy="207.4" r="2.75"/><circle cx="209.8" cy="200.2" r="2.75"/><circle cx="211.0" cy="204.9" r="2.75"/><circle cx="212.2" cy="192.5" r="2.75"/><circle cx="213.2" cy="198.9" r="2.75"/><circle cx="214.4" cy="200.3" r="2.75"/><circle cx="215.1" cy="192.7" r="2.75"/><circle cx="216.5" cy="201.1" r="2.75"/><circle cx="217.6" cy="202.3" r="2.75"/><circle cx="218.4" cy="201.9" r="2.75"/><circle cx="219.9" cy="204.1" r="2.75"/><circle cx="220.7" cy="200.1" r="2.75"/><circle cx="221.8" cy="198.9" r="2.75"/><circle cx="222.9" cy="196.0" r="2.75"/><circle cx="224.1" cy="199.4" r="2.75"/><circle cx="225.1" cy="200.9" r="2.75"/><circle cx="226.2" cy="196.6" r="2.75"/><circle cx="227.5" cy="201.5" r="2.75"/><circle cx="228.9" cy="196.9" r="2.75"/><circle cx="229.8" cy="206.5" r="2.75"/><circle cx="231.1" cy="197.3" r="2.75"/><circle cx="231.8" cy="195.2" r="2.75"/><circle cx="232.9" cy="202.7" r="2.75"/><circle cx="234.1" cy="198.8" r="2.75"/><circle cx="235.2" cy="204.4" r="2.75"/><circle cx="236.5" cy="200.3" r="2.75"/><circle cx="237.6" cy="195.4" r="2.75"/><circle cx="238.6" cy="196.4" r="2.75"/><circle cx="239.5" cy="197.9" r="2.75"/><circle cx="240.6" cy="200.5" r="2.75"/><circle cx="241.8" cy="199.2" r="2.75"/><circle cx="243.0" cy="196.9" r="2.75"/><circle cx="244.1" cy="197.9" r="2.75"/><circle cx="245.5" cy="194.3" r="2.75"/><circle cx="246.2" cy="200.8" r="2.75"/><circle cx="247.7" cy="201.6" r="2.75"/><circle cx="248.4" cy="196.1" r="2.75"/><circle cx="249.6" cy="198.8" r="2.75"/><circle cx="250.6" cy="193.1" r="2.75"/><circle cx="252.0" cy="180.8" r="2.75"/><circle cx="252.8" cy="195.3" r="2.75"/><circle cx="253.9" cy="191.3" r="2.75"/><circle cx="255.3" cy="186.2" r="2.75"/><circle cx="256.6" cy="187.4" r="2.75"/><circle cx="257.7" cy="180.8" r="2.75"/><circle cx="258.7" cy="179.6" r="2.75"/><circle cx="259.5" cy="183.3" r="2.75"/><circle cx="261.1" cy="172.7" r="2.75"/><circle cx="262.2" cy="146.3" r="2.75"/><circle cx="263.2" cy="116.2" r="2.75"/><circle cx="264.0" cy="97.1" r="2.75"/><circle cx="265.3" cy="70.7" r="2.75"/><circle cx="266.4" cy="62.3" r="2.75"/><circle cx="267.5" cy="58.8" r="2.75"/><circle cx="268.8" cy="58.0" r="2.75"/><circle cx="269.6" cy="58.1" r="2.75"/><circle cx="270.9" cy="60.0" r="2.75"/><circle cx="271.9" cy="62.3" r="2.75"/><circle cx="273.1" cy="72.8" r="2.75"/><circle cx="273.9" cy="86.1" r="2.75"/><circle cx="275.1" cy="102.2" r="2.75"/><circle cx="276.6" cy="129.4" r="2.75"/><circle cx="277.4" cy="136.1" r="2.75"/><circle cx="278.7" cy="155.2" r="2.75"/><circle cx="279.5" cy="174.0" r="2.75"/><circle cx="280.7" cy="178.9" r="2.75"/><circle cx="282.1" cy="179.3" r="2.75"/><circle cx="282.9" cy="177.1" r="2.75"/><circle cx="284.3" cy="184.0" r="2.75"/><circle cx="285.4" cy="190.6" r="2.75"/><circle cx="286.2" cy="185.8" r="2.75"/><circle cx="287.3" cy="179.7" r="2.75"/><circle cx="288.6" cy="185.4" r="2.75"/><circle cx="289.7" cy="184.4" r="2.75"/><circle cx="290.6" cy="189.0" r="2.75"/><circle cx="291.8" cy="185.1" r="2.75"/><circle cx="293.0" cy="191.3" r="2.75"/><circle cx="293.9" cy="185.2" r="2.75"/><circle cx="295.2" cy="196.1" r="2.75"/><circle cx="296.3" cy="188.5" r="2.75"/><circle cx="297.6" cy="192.2" r="2.75"/><circle cx="298.8" cy="195.7" r="2.75"/><circle cx="299.9" cy="194.0" r="2.75"/><circle cx="300.6" cy="188.4" r="2.75"/><circle cx="301.9" cy="193.0" r="2.75"/><circle cx="302.9" cy="188.3" r="2.75"/><circle cx="304.0" cy="198.2" r="2.75"/><circle cx="305.3" cy="190.7" r="2.75"/><circle cx="306.1" cy="200.6" r="2.75"/><circle cx="307.6" cy="188.9" r="2.75"/><circle cx="308.5" cy="199.3" r="2.75"/><circle cx="309.8" cy="190.7" r="2.75"/><circle cx="310.6" cy="192.8" r="2.75"/><circle cx="311.8" cy="189.2" r="2.75"/><circle cx="312.9" cy="191.5" r="2.75"/><circle cx="314.1" cy="196.4" r="2.75"/><circle cx="315.2" cy="191.3" r="2.75"/><circle cx="316.3" cy="199.0" r="2.75"/><circle cx="317.6" cy="193.1" r="2.75"/><circle cx="318.4" cy="197.3" r="2.75"/><circle cx="319.9" cy="203.2" r="2.75"/><circle cx="320.9" cy="195.6" r="2.75"/><circle cx="322.0" cy="193.6" r="2.75"/><circle cx="322.9" cy="198.8" r="2.75"/><circle cx="324.0" cy="188.7" r="2.75"/><circle cx="325.5" cy="194.3" r="2.75"/><circle cx="326.4" cy="195.0" r="2.75"/><circle cx="327.2" cy="200.4" r="2.75"/><circle cx="328.8" cy="193.1" r="2.75"/><circle cx="329.9" cy="197.2" r="2.75"/><circle cx="330.9" cy="191.5" r="2.75"/><circle cx="331.8" cy="198.3" r="2.75"/><circle cx="332.9" cy="194.7" r="2.75"/><circle cx="334.0" cy="194.6" r="2.75"/><circle cx="335.2" cy="192.0" r="2.75"/><circle cx="336.2" cy="195.5" r="2.75"/><circle cx="337.4" cy="196.1" r="2.75"/><circle cx="338.6" cy="191.6" r="2.75"/><circle cx="339.8" cy="194.9" r="2.75"/><circle cx="340.5" cy="191.9" r="2.75"/><circle cx="341.7" cy="194.9" r="2.75"/><circle cx="343.0" cy="191.6" r="2.75"/><circle cx="344.2" cy="196.0" r="2.75"/><circle cx="345.1" cy="193.9" r="2.75"/><circle cx="346.5" cy="185.4" r="2.75"/><circle cx="347.2" cy="189.3" r="2.75"/><circle cx="348.3" cy="190.2" r="2.75"/><circle cx="349.5" cy="181.7" r="2.75"/><circle cx="350.8" cy="191.1" r="2.75"/><circle cx="351.6" cy="191.8" r="2.75"/><circle cx="353.1" cy="190.4" r="2.75"/><circle cx="354.0" cy="182.2" r="2.75"/><circle cx="355.0" cy="183.9" r="2.75"/><circle cx="356.5" cy="188.7" r="2.75"/><circle cx="357.5" cy="185.9" r="2.75"/><circle cx="358.7" cy="187.5" r="2.75"/><circle cx="359.7" cy="189.2" r="2.75"/><circle cx="360.9" cy="187.3" r="2.75"/><circle cx="362.1" cy="191.0" r="2.75"/><circle cx="362.9" cy="193.2" r="2.75"/><circle cx="364.3" cy="183.6" r="2.75"/><circle cx="365.0" cy="184.0" r="2.75"/><circle cx="366.2" cy="186.3" r="2.75"/><circle cx="367.1" cy="180.4" r="2.75"/><circle cx="368.4" cy="179.9" r="2.75"/><circle cx="369.5" cy="170.1" r="2.75"/><circle cx="370.6" cy="157.2" r="2.75"/><circle cx="372.0" cy="138.5" r="2.75"/><circle cx="373.1" cy="106.0" r="2.75"/><circle cx="374.2" cy="68.2" r="2.75"/><circle cx="375.1" cy="50.2" r="2.75"/><circle cx="376.1" cy="41.6" r="2.75"/><circle cx="377.3" cy="33.6" r="2.75"/><circle cx="378.6" cy="27.3" r="2.75"/><circle cx="379.4" cy="31.0" r="2.75"/><circle cx="380.6" cy="28.9" r="2.75"/><circle cx="381.7" cy="32.0" r="2.75"/><circle cx="383.0" cy="37.5" r="2.75"/><circle cx="384.2" cy="52.1" r="2.75"/><circle cx="385.1" cy="74.7" r="2.75"/><circle cx="386.5" cy="116.7" r="2.75"/><circle cx="387.3" cy="138.5" r="2.75"/><circle cx="388.4" cy="160.4" r="2.75"/><circle cx="389.6" cy="167.1" r="2.75"/><circle cx="390.8" cy="171.5" r="2.75"/><circle cx="391.9" cy="181.5" r="2.75"/><circle cx="392.7" cy="174.2" r="2.75"/><circle cx="394.3" cy="190.7" r="2.75"/><circle cx="395.4" cy="186.8" r="2.75"/><circle cx="396.4" cy="182.8" r="2.75"/><circle cx="397.6" cy="190.5" r="2.75"/><circle cx="398.6" cy="178.2" r="2.75"/><circle cx="399.6" cy="182.0" r="2.75"/><circle cx="400.7" cy="182.2" r="2.75"/><circle cx="401.6" cy="183.3" r="2.75"/><circle cx="403.1" cy="182.0" r="2.75"/><circle cx="404.2" cy="191.0" r="2.75"/><circle cx="405.2" cy="181.9" r="2.75"/><circle cx="406.1" cy="189.0" r="2.75"/><circle cx="407.1" cy="192.9" r="2.75"/><circle cx="408.2" cy="181.7" r="2.75"/><circle cx="409.8" cy="186.1" r="2.75"/><circle cx="410.5" cy="186.1" r="2.75"/><circle cx="411.8" cy="183.5" r="2.75"/><circle cx="412.7" cy="183.4" r="2.75"/><circle cx="414.2" cy="186.4" r="2.75"/><circle cx="415.1" cy="187.8" r="2.75"/><circle cx="416.1" cy="182.9" r="2.75"/><circle cx="417.3" cy="186.4" r="2.75"/><circle cx="418.4" cy="185.5" r="2.75"/><circle cx="419.5" cy="184.4" r="2.75"/><circle cx="420.9" cy="187.0" r="2.75"/><circle cx="422.0" cy="194.3" r="2.75"/><circle cx="423.1" cy="187.6" r="2.75"/><circle cx="423.9" cy="184.3" r="2.75"/><circle cx="425.0" cy="183.3" r="2.75"/><circle cx="426.0" cy="189.9" r="2.75"/><circle cx="427.2" cy="190.7" r="2.75"/><circle cx="428.3" cy="191.3" r="2.75"/><circle cx="429.5" cy="199.4" r="2.75"/><circle cx="430.4" cy="188.4" r="2.75"/><circle cx="432.0" cy="193.0" r="2.75"/><circle cx="432.7" cy="189.3" r="2.75"/><circle cx="433.8" cy="185.6" r="2.75"/><circle cx="435.0" cy="190.5" r="2.75"/><circle cx="436.4" cy="179.5" r="2.75"/><circle cx="437.6" cy="185.9" r="2.75"/><circle cx="438.5" cy="187.2" r="2.75"/><circle cx="439.3" cy="192.8" r="2.75"/><circle cx="440.7" cy="178.6" r="2.75"/><circle cx="441.7" cy="187.3" r="2.75"/><circle cx="442.7" cy="186.8" r="2.75"/><circle cx="443.8" cy="188.4" r="2.75"/><circle cx="445.0" cy="184.6" r="2.75"/><circle cx="446.4" cy="180.7" r="2.75"/><circle cx="447.4" cy="188.9" r="2.75"/><circle cx="448.4" cy="191.1" r="2.75"/><circle cx="449.7" cy="189.1" r="2.75"/><circle cx="450.6" cy="180.5" r="2.75"/><circle cx="451.8" cy="189.2" r="2.75"/><circle cx="453.1" cy="195.5" r="2.75"/><circle cx="453.9" cy="184.2" r="2.75"/><circle cx="455.0" cy="189.9" r="2.75"/><circle cx="456.2" cy="185.4" r="2.75"/><circle cx="457.5" cy="186.4" r="2.75"/><circle cx="458.3" cy="187.9" r="2.75"/><circle cx="459.3" cy="190.9" r="2.75"/><circle cx="460.8" cy="194.9" r="2.75"/><circle cx="461.9" cy="189.9" r="2.75"/><circle cx="462.7" cy="186.8" r="2.75"/><circle cx="464.1" cy="191.5" r="2.75"/><circle cx="464.9" cy="188.6" r="2.75"/><circle cx="466.3" cy="192.3" r="2.75"/><circle cx="467.2" cy="182.3" r="2.75"/><circle cx="468.3" cy="186.9" r="2.75"/><circle cx="469.6" cy="184.7" r="2.75"/><circle cx="470.6" cy="193.3" r="2.75"/><circle cx="471.8" cy="177.2" r="2.75"/><circle cx="472.9" cy="179.2" r="2.75"/><circle cx="474.2" cy="191.8" r="2.75"/><circle cx="475.3" cy="183.1" r="2.75"/><circle cx="476.3" cy="176.1" r="2.75"/><circle cx="477.2" cy="179.2" r="2.75"/><circle cx="478.6" cy="177.8" r="2.75"/><circle cx="479.4" cy="177.6" r="2.75"/><circle cx="480.8" cy="154.2" r="2.75"/><circle cx="481.9" cy="137.1" r="2.75"/><circle cx="483.0" cy="123.0" r="2.75"/><circle cx="483.8" cy="105.1" r="2.75"/><circle cx="485.3" cy="86.0" r="2.75"/><circle cx="485.9" cy="76.0" r="2.75"/><circle cx="487.4" cy="63.7" r="2.75"/><circle cx="488.1" cy="61.6" r="2.75"/><circle cx="489.7" cy="59.9" r="2.75"/><circle cx="490.5" cy="57.8" r="2.75"/><circle cx="491.6" cy="63.5" r="2.75"/><circle cx="492.7" cy="62.3" r="2.75"/><circle cx="493.9" cy="71.8" r="2.75"/><circle cx="494.8" cy="91.3" r="2.75"/><circle cx="496.4" cy="130.4" r="2.75"/><circle cx="497.4" cy="152.7" r="2.75"/><circle cx="498.3" cy="177.7" r="2.75"/><circle cx="499.6" cy="185.2" r="2.75"/><circle cx="500.4" cy="181.2" r="2.75"/><circle cx="501.8" cy="181.9" r="2.75"/><circle cx="503.0" cy="193.5" r="2.75"/><circle cx="503.8" cy="197.8" r="2.75"/><circle cx="504.8" cy="197.7" r="2.75"/><circle cx="505.9" cy="191.9" r="2.75"/><circle cx="507.3" cy="193.1" r="2.75"/><circle cx="508.1" cy="191.6" r="2.75"/><circle cx="509.6" cy="196.0" r="2.75"/><circle cx="510.6" cy="201.9" r="2.75"/><circle cx="511.5" cy="196.3" r="2.75"/><circle cx="513.1" cy="195.2" r="2.75"/><circle cx="514.1" cy="198.4" r="2.75"/><circle cx="515.1" cy="199.9" r="2.75"/><circle cx="515.9" cy="194.0" r="2.75"/><circle cx="517.1" cy="193.2" r="2.75"/><circle cx="518.4" cy="203.1" r="2.75"/><circle cx="519.4" cy="202.7" r="2.75"/><circle cx="520.8" cy="193.3" r="2.75"/><circle cx="521.5" cy="200.5" r="2.75"/><circle cx="523.0" cy="197.4" r="2.75"/><circle cx="524.2" cy="197.6" r="2.75"/><circle cx="525.2" cy="200.5" r="2.75"/><circle cx="525.9" cy="197.6" r="2.75"/><circle cx="527.1" cy="201.7" r="2.75"/><circle cx="528.5" cy="197.6" r="2.75"/><circle cx="529.6" cy="202.5" r="2.75"/><circle cx="530.5" cy="195.0" r="2.75"/><circle cx="531.9" cy="201.9" r="2.75"/><circle cx="532.8" cy="199.3" r="2.75"/><circle cx="534.1" cy="200.8" r="2.75"/><circle cx="534.8" cy="200.6" r="2.75"/><circle cx="536.2" cy="200.9" r="2.75"/><circle cx="537.0" cy="201.2" r="2.75"/><circle cx="538.4" cy="202.9" r="2.75"/><circle cx="539.6" cy="206.5" r="2.75"/><circle cx="540.7" cy="200.8" r="2.75"/><circle cx="541.6" cy="205.2" r="2.75"/><circle cx="543.0" cy="199.9" r="2.75"/><circle cx="543.6" cy="192.8" r="2.75"/><circle cx="544.7" cy="204.1" r="2.75"/><circle cx="546.2" cy="193.6" r="2.75"/><circle cx="546.9" cy="201.1" r="2.75"/><circle cx="548.2" cy="208.0" r="2.75"/><circle cx="549.6" cy="193.3" r="2.75"/><circle cx="550.3" cy="196.0" r="2.75"/><circle cx="551.8" cy="193.3" r="2.75"/><circle cx="552.6" cy="200.0" r="2.75"/><circle cx="553.7" cy="196.3" r="2.75"/><circle cx="555.1" cy="193.8" r="2.75"/><circle cx="556.1" cy="196.9" r="2.75"/><circle cx="557.3" cy="195.4" r="2.75"/><circle cx="558.5" cy="192.9" r="2.75"/><circle cx="559.7" cy="194.7" r="2.75"/><circle cx="560.3" cy="187.9" r="2.75"/><circle cx="561.5" cy="193.0" r="2.75"/><circle cx="562.5" cy="190.7" r="2.75"/><circle cx="563.7" cy="190.7" r="2.75"/><circle cx="565.1" cy="189.4" r="2.75"/><circle cx="566.3" cy="188.8" r="2.75"/><circle cx="567.4" cy="189.7" r="2.75"/><circle cx="568.1" cy="191.6" r="2.75"/><circle cx="569.3" cy="195.2" r="2.75"/><circle cx="570.4" cy="190.5" r="2.75"/><circle cx="571.6" cy="187.3" r="2.75"/><circle cx="572.6" cy="184.8" r="2.75"/><circle cx="573.8" cy="189.0" r="2.75"/><circle cx="574.9" cy="190.5" r="2.75"/><circle cx="576.0" cy="184.6" r="2.75"/><circle cx="577.4" cy="189.1" r="2.75"/><circle cx="578.0" cy="186.8" r="2.75"/><circle cx="579.3" cy="180.1" r="2.75"/><circle cx="580.6" cy="170.4" r="2.75"/><circle cx="581.7" cy="186.1" r="2.75"/><circle cx="582.6" cy="180.9" r="2.75"/><circle cx="583.9" cy="185.2" r="2.75"/><circle cx="584.7" cy="181.5" r="2.75"/><circle cx="586.3" cy="173.4" r="2.75"/><circle cx="587.4" cy="180.0" r="2.75"/><circle cx="588.5" cy="171.9" r="2.75"/><circle cx="589.5" cy="169.8" r="2.75"/><circle cx="590.5" cy="165.9" r="2.75"/><circle cx="591.5" cy="165.3" r="2.75"/><circle cx="592.7" cy="150.1" r="2.75"/><circle cx="593.6" cy="122.2" r="2.75"/><circle cx="594.8" cy="96.4" r="2.75"/><circle cx="595.9" cy="88.4" r="2.75"/><circle cx="597.4" cy="80.2" r="2.75"/><circle cx="598.5" cy="79.4" r="2.75"/><circle cx="599.2" cy="75.3" r="2.75"/><circle cx="600.4" cy="78.5" r="2.75"/><circle cx="601.5" cy="79.8" r="2.75"/><circle cx="602.7" cy="88.5" r="2.75"/><circle cx="604.0" cy="100.7" r="2.75"/><circle cx="604.8" cy="108.4" r="2.75"/><circle cx="606.1" cy="131.7" r="2.75"/><circle cx="607.1" cy="157.9" r="2.75"/><circle cx="608.2" cy="180.9" r="2.75"/><circle cx="609.4" cy="184.7" r="2.75"/><circle cx="610.8" cy="186.6" r="2.75"/><circle cx="611.9" cy="184.4" r="2.75"/><circle cx="612.8" cy="197.5" r="2.75"/><circle cx="613.9" cy="200.4" r="2.75"/><circle cx="615.1" cy="197.8" r="2.75"/><circle cx="616.0" cy="196.8" r="2.75"/><circle cx="617.1" cy="203.9" r="2.75"/><circle cx="618.0" cy="202.8" r="2.75"/><circle cx="619.6" cy="201.1" r="2.75"/><circle cx="620.4" cy="202.6" r="2.75"/><circle cx="621.7" cy="202.7" r="2.75"/><circle cx="622.9" cy="203.8" r="2.75"/><circle cx="623.7" cy="200.1" r="2.75"/><circle cx="624.9" cy="197.3" r="2.75"/><circle cx="625.9" cy="197.0" r="2.75"/><circle cx="627.3" cy="205.7" r="2.75"/><circle cx="628.4" cy="196.6" r="2.75"/><circle cx="629.6" cy="196.8" r="2.75"/><circle cx="630.4" cy="196.0" r="2.75"/><circle cx="631.4" cy="207.8" r="2.75"/><circle cx="632.9" cy="197.9" r="2.75"/><circle cx="633.8" cy="196.5" r="2.75"/><circle cx="635.0" cy="198.9" r="2.75"/><circle cx="635.9" cy="202.9" r="2.75"/><circle cx="637.2" cy="200.8" r="2.75"/><circle cx="638.0" cy="196.5" r="2.75"/><circle cx="639.2" cy="195.4" r="2.75"/><circle cx="640.5" cy="198.6" r="2.75"/><circle cx="641.6" cy="199.6" r="2.75"/><circle cx="642.6" cy="203.1" r="2.75"/><circle cx="643.8" cy="203.6" r="2.75"/><circle cx="644.7" cy="195.0" r="2.75"/><circle cx="646.0" cy="195.9" r="2.75"/><circle cx="646.8" cy="189.5" r="2.75"/><circle cx="648.5" cy="201.5" r="2.75"/><circle cx="649.6" cy="195.0" r="2.75"/><circle cx="650.5" cy="194.1" r="2.75"/><circle cx="651.5" cy="199.5" r="2.75"/><circle cx="652.5" cy="202.5" r="2.75"/><circle cx="653.8" cy="194.7" r="2.75"/><circle cx="655.1" cy="199.9" r="2.75"/><circle cx="655.9" cy="199.9" r="2.75"/><circle cx="656.9" cy="208.1" r="2.75"/><circle cx="347.2" cy="175.3" r="2.75"/><circle cx="410.5" cy="173.8" r="2.75"/><circle cx="415.0" cy="170.8" r="2.75"/><circle cx="653.3" cy="189.6" r="2.75"/><circle cx="559.4" cy="176.0" r="2.75"/><circle cx="562.0" cy="178.2" r="2.75"/></g>
<g fill="#0000ff" clip-path="url(#cb)"><circle cx="100.9" cy="427.7" r="2.75"/><circle cx="102.3" cy="439.3" r="2.75"/><circle cx="103.3" cy="417.5" r="2.75"/><circle cx="104.1" cy="419.8" r="2.75"/><circle cx="105.3" cy="427.9" r="2.75"/><circle cx="106.6" cy="426.4" r="2.75"/><circle cx="107.6" cy="429.3" r="2.75"/><circle cx="108.7" cy="425.1" r="2.75"/><circle cx="110.1" cy="428.2" r="2.75"/><circle cx="110.9" cy="429.9" r="2.75"/><circle cx="112.0" cy="423.4" r="2.75"/><circle cx="113.4" cy="422.0" r="2.75"/><circle cx="114.2" cy="419.7" r="2.75"/><circle cx="115.4" cy="434.5" r="2.75"/><circle cx="116.3" cy="433.6" r="2.75"/><circle cx="117.5" cy="423.7" r="2.75"/><circle cx="118.8" cy="420.1" r="2.75"/><circle cx="119.9" cy="422.8" r="2.75"/><circle cx="121.0" cy="419.2" r="2.75"/><circle cx="122.3" cy="427.1" r="2.75"/><circle cx="123.4" cy="413.5" r="2.75"/><circle cx="124.5" cy="431.1" r="2.75"/><circle cx="125.5" cy="418.6" r="2.75"/><circle cx="126.5" cy="416.4" r="2.75"/><circle cx="127.4" cy="417.6" r="2.75"/><circle cx="128.9" cy="433.1" r="2.75"/><circle cx="130.1" cy="417.1" r="2.75"/><circle cx="130.9" cy="418.2" r="2.75"/><circle cx="132.1" cy="421.9" r="2.75"/><circle cx="133.1" cy="427.4" r="2.75"/><circle cx="134.1" cy="423.0" r="2.75"/><circle cx="135.5" cy="431.8" r="2.75"/><circle cx="136.2" cy="412.4" r="2.75"/><circle cx="137.4" cy="416.5" r="2.75"/><circle cx="138.7" cy="386.6" r="2.75"/><circle cx="139.8" cy="369.4" r="2.75"/><circle cx="141.1" cy="353.7" r="2.75"/><circle cx="142.1" cy="336.1" r="2.75"/><circle cx="143.4" cy="323.4" r="2.75"/><circle cx="144.4" cy="313.7" r="2.75"/><circle cx="145.1" cy="311.5" r="2.75"/><circle cx="146.7" cy="314.8" r="2.75"/><circle cx="147.3" cy="326.4" r="2.75"/><circle cx="148.4" cy="343.7" r="2.75"/><circle cx="149.6" cy="355.0" r="2.75"/><circle cx="151.2" cy="393.2" r="2.75"/><circle cx="151.9" cy="407.7" r="2.75"/><circle cx="153.1" cy="409.0" r="2.75"/><circle cx="154.3" cy="404.0" r="2.75"/><circle cx="155.2" cy="408.9" r="2.75"/><circle cx="156.5" cy="410.1" r="2.75"/><circle cx="157.7" cy="407.1" r="2.75"/><circle cx="158.9" cy="400.4" r="2.75"/><circle cx="159.6" cy="391.2" r="2.75"/><circle cx="161.0" cy="409.3" r="2.75"/><circle cx="161.8" cy="413.2" r="2.75"/><circle cx="163.1" cy="412.9" r="2.75"/><circle cx="164.5" cy="419.3" r="2.75"/><circle cx="165.5" cy="408.3" r="2.75"/><circle cx="166.7" cy="396.1" r="2.75"/><circle cx="167.4" cy="399.0" r="2.75"/><circle cx="168.8" cy="373.4" r="2.75"/><circle cx="169.8" cy="354.3" r="2.75"/><circle cx="171.1" cy="339.0" r="2.75"/><circle cx="172.2" cy="318.5" r="2.75"/><circle cx="173.4" cy="306.0" r="2.75"/><circle cx="174.5" cy="300.8" r="2.75"/><circle cx="175.5" cy="309.9" r="2.75"/><circle cx="176.5" cy="334.5" r="2.75"/><circle cx="177.4" cy="344.6" r="2.75"/><circle cx="178.9" cy="369.7" r="2.75"/><circle cx="179.6" cy="380.4" r="2.75"/><circle cx="180.9" cy="394.4" r="2.75"/><circle cx="181.8" cy="393.6" r="2.75"/><circle cx="183.4" cy="389.8" r="2.75"/><circle cx="184.3" cy="395.3" r="2.75"/><circle cx="185.5" cy="401.1" r="2.75"/><circle cx="186.4" cy="408.2" r="2.75"/><circle cx="187.6" cy="409.1" r="2.75"/><circle cx="188.9" cy="404.8" r="2.75"/><circle cx="189.6" cy="411.1" r="2.75"/><circle cx="190.9" cy="417.7" r="2.75"/><circle cx="192.1" cy="427.6" r="2.75"/><circle cx="193.4" cy="417.9" r="2.75"/><circle cx="194.1" cy="411.5" r="2.75"/><circle cx="195.2" cy="416.9" r="2.75"/><circle cx="196.7" cy="417.0" r="2.75"/><circle cx="197.6" cy="424.4" r="2.75"/><circle cx="198.7" cy="416.1" r="2.75"/><circle cx="199.9" cy="418.6" r="2.75"/><circle cx="200.7" cy="412.6" r="2.75"/><circle cx="201.8" cy="426.3" r="2.75"/><circle cx="203.4" cy="419.1" r="2.75"/><circle cx="204.4" cy="410.5" r="2.75"/><circle cx="205.6" cy="421.6" r="2.75"/><circle cx="206.6" cy="432.3" r="2.75"/><circle cx="207.3" cy="414.7" r="2.75"/><circle cx="208.4" cy="424.4" r="2.75"/><circle cx="209.6" cy="408.3" r="2.75"/><circle cx="211.1" cy="427.2" r="2.75"/><circle cx="212.0" cy="431.9" r="2.75"/><circle cx="212.9" cy="424.2" r="2.75"/><circle cx="214.0" cy="426.1" r="2.75"/><circle cx="215.4" cy="419.6" r="2.75"/><circle cx="216.7" cy="434.1" r="2.75"/><circle cx="217.6" cy="414.8" r="2.75"/><circle cx="218.5" cy="422.8" r="2.75"/><circle cx="220.0" cy="419.6" r="2.75"/><circle cx="220.7" cy="422.8" r="2.75"/><circle cx="221.9" cy="418.0" r="2.75"/><circle cx="223.4" cy="433.9" r="2.75"/><circle cx="224.5" cy="422.1" r="2.75"/><circle cx="225.4" cy="438.5" r="2.75"/><circle cx="226.3" cy="423.9" r="2.75"/><circle cx="227.3" cy="438.7" r="2.75"/><circle cx="228.4" cy="431.9" r="2.75"/><circle cx="229.5" cy="411.5" r="2.75"/><circle cx="230.9" cy="423.5" r="2.75"/><circle cx="232.1" cy="425.7" r="2.75"/><circle cx="233.0" cy="429.3" r="2.75"/><circle cx="234.0" cy="437.9" r="2.75"/><circle cx="235.4" cy="427.0" r="2.75"/><circle cx="236.3" cy="429.0" r="2.75"/><circle cx="237.3" cy="434.3" r="2.75"/><circle cx="238.8" cy="438.2" r="2.75"/><circle cx="239.6" cy="421.6" r="2.75"/><circle cx="240.7" cy="420.6" r="2.75"/><circle cx="241.7" cy="425.8" r="2.75"/><circle cx="243.0" cy="428.2" r="2.75"/><circle cx="244.3" cy="412.1" r="2.75"/><circle cx="245.2" cy="419.8" r="2.75"/><circle cx="246.5" cy="421.7" r="2.75"/><circle cx="247.6" cy="403.3" r="2.75"/><circle cx="248.4" cy="397.7" r="2.75"/><circle cx="249.9" cy="385.0" r="2.75"/><circle cx="250.8" cy="372.4" r="2.75"/><circle cx="251.7" cy="346.7" r="2.75"/><circle cx="252.9" cy="322.0" r="2.75"/><circle cx="254.0" cy="311.1" r="2.75"/><circle cx="255.2" cy="292.9" r="2.75"/><circle cx="256.2" cy="282.2" r="2.75"/><circle cx="257.5" cy="288.3" r="2.75"/><circle cx="258.5" cy="324.7" r="2.75"/><circle cx="259.5" cy="341.5" r="2.75"/><circle cx="261.0" cy="376.7" r="2.75"/><circle cx="261.9" cy="384.8" r="2.75"/><circle cx="262.9" cy="386.3" r="2.75"/><circle cx="264.3" cy="392.7" r="2.75"/><circle cx="265.2" cy="394.4" r="2.75"/><circle cx="266.5" cy="421.0" r="2.75"/><circle cx="267.7" cy="406.2" r="2.75"/><circle cx="268.6" cy="407.5" r="2.75"/><circle cx="269.7" cy="416.2" r="2.75"/><circle cx="270.8" cy="402.8" r="2.75"/><circle cx="272.0" cy="411.0" r="2.75"/><circle cx="273.0" cy="401.5" r="2.75"/><circle cx="274.3" cy="410.6" r="2.75"/><circle cx="275.4" cy="397.0" r="2.75"/><circle cx="276.5" cy="410.3" r="2.75"/><circle cx="277.4" cy="414.2" r="2.75"/><circle cx="278.3" cy="379.3" r="2.75"/><circle cx="279.9" cy="345.3" r="2.75"/><circle cx="280.9" cy="325.8" r="2.75"/><circle cx="282.0" cy="307.3" r="2.75"/><circle cx="283.2" cy="294.7" r="2.75"/><circle cx="284.4" cy="288.2" r="2.75"/><circle cx="285.0" cy="295.2" r="2.75"/><circle cx="286.1" cy="297.1" r="2.75"/><circle cx="287.4" cy="326.0" r="2.75"/><circle cx="288.3" cy="340.6" r="2.75"/><circle cx="289.8" cy="366.8" r="2.75"/><circle cx="290.9" cy="382.1" r="2.75"/><circle cx="291.8" cy="388.5" r="2.75"/><circle cx="293.1" cy="382.9" r="2.75"/><circle cx="294.0" cy="397.8" r="2.75"/><circle cx="295.4" cy="394.7" r="2.75"/><circle cx="296.2" cy="401.8" r="2.75"/><circle cx="297.4" cy="412.3" r="2.75"/><circle cx="298.8" cy="415.0" r="2.75"/><circle cx="299.8" cy="401.8" r="2.75"/><circle cx="300.9" cy="407.3" r="2.75"/><circle cx="302.0" cy="410.2" r="2.75"/><circle cx="303.2" cy="411.5" r="2.75"/><circle cx="303.9" cy="411.0" r="2.75"/><circle cx="305.1" cy="421.7" r="2.75"/><circle cx="306.5" cy="426.8" r="2.75"/><circle cx="307.6" cy="415.8" r="2.75"/><circle cx="308.5" cy="412.5" r="2.75"/><circle cx="309.8" cy="415.8" r="2.75"/><circle cx="310.5" cy="408.0" r="2.75"/><circle cx="311.6" cy="412.6" r="2.75"/><circle cx="312.9" cy="417.1" r="2.75"/><circle cx="314.2" cy="411.9" r="2.75"/><circle cx="315.2" cy="421.4" r="2.75"/><circle cx="316.5" cy="405.6" r="2.75"/><circle cx="317.7" cy="414.8" r="2.75"/><circle cx="318.6" cy="410.1" r="2.75"/><circle cx="319.9" cy="418.4" r="2.75"/><circle cx="320.9" cy="406.3" r="2.75"/><circle cx="322.0" cy="422.6" r="2.75"/><circle cx="323.0" cy="422.9" r="2.75"/><circle cx="324.1" cy="409.2" r="2.75"/><circle cx="325.0" cy="424.4" r="2.75"/><circle cx="326.5" cy="415.3" r="2.75"/><circle cx="327.2" cy="414.4" r="2.75"/><circle cx="328.8" cy="421.2" r="2.75"/><circle cx="329.7" cy="416.1" r="2.75"/><circle cx="330.6" cy="431.9" r="2.75"/><circle cx="331.7" cy="412.2" r="2.75"/><circle cx="332.8" cy="415.0" r="2.75"/><circle cx="334.2" cy="420.4" r="2.75"/><circle cx="335.0" cy="406.8" r="2.75"/><circle cx="336.2" cy="413.2" r="2.75"/><circle cx="337.2" cy="418.7" r="2.75"/><circle cx="338.6" cy="422.4" r="2.75"/><circle cx="339.5" cy="413.5" r="2.75"/><circle cx="340.9" cy="418.5" r="2.75"/><circle cx="342.0" cy="416.0" r="2.75"/><circle cx="342.7" cy="413.5" r="2.75"/><circle cx="343.8" cy="403.3" r="2.75"/><circle cx="345.1" cy="402.0" r="2.75"/><circle cx="346.3" cy="415.4" r="2.75"/><circle cx="347.2" cy="412.0" r="2.75"/><circle cx="348.8" cy="408.9" r="2.75"/><circle cx="349.6" cy="417.3" r="2.75"/><circle cx="350.9" cy="408.0" r="2.75"/><circle cx="352.0" cy="410.9" r="2.75"/><circle cx="352.8" cy="404.0" r="2.75"/><circle cx="354.1" cy="411.8" r="2.75"/><circle cx="355.3" cy="387.5" r="2.75"/><circle cx="356.3" cy="388.2" r="2.75"/><circle cx="357.5" cy="379.7" r="2.75"/><circle cx="358.6" cy="374.2" r="2.75"/><circle cx="359.4" cy="361.4" r="2.75"/><circle cx="360.9" cy="329.5" r="2.75"/><circle cx="361.7" cy="313.7" r="2.75"/><circle cx="362.9" cy="287.2" r="2.75"/><circle cx="364.0" cy="263.7" r="2.75"/><circle cx="365.4" cy="248.1" r="2.75"/><circle cx="366.5" cy="250.4" r="2.75"/><circle cx="367.6" cy="259.2" r="2.75"/><circle cx="368.5" cy="279.9" r="2.75"/><circle cx="369.3" cy="293.4" r="2.75"/><circle cx="370.5" cy="308.5" r="2.75"/><circle cx="371.6" cy="323.2" r="2.75"/><circle cx="373.1" cy="353.2" r="2.75"/><circle cx="373.8" cy="382.5" r="2.75"/><circle cx="375.1" cy="390.7" r="2.75"/><circle cx="376.4" cy="396.1" r="2.75"/><circle cx="377.2" cy="389.5" r="2.75"/><circle cx="378.6" cy="397.3" r="2.75"/><circle cx="379.8" cy="410.7" r="2.75"/><circle cx="380.5" cy="394.9" r="2.75"/><circle cx="381.6" cy="401.0" r="2.75"/><circle cx="383.2" cy="386.9" r="2.75"/><circle cx="383.8" cy="390.8" r="2.75"/><circle cx="385.2" cy="397.4" r="2.75"/><circle cx="386.2" cy="391.2" r="2.75"/><circle cx="387.5" cy="377.8" r="2.75"/><circle cx="388.7" cy="352.4" r="2.75"/><circle cx="389.6" cy="325.5" r="2.75"/><circle cx="390.9" cy="294.9" r="2.75"/><circle cx="391.8" cy="278.1" r="2.75"/><circle cx="393.0" cy="261.0" r="2.75"/><circle cx="394.2" cy="257.3" r="2.75"/><circle cx="395.2" cy="250.0" r="2.75"/><circle cx="396.1" cy="255.1" r="2.75"/><circle cx="397.5" cy="271.0" r="2.75"/><circle cx="398.6" cy="294.7" r="2.75"/><circle cx="399.8" cy="309.2" r="2.75"/><circle cx="400.5" cy="329.7" r="2.75"/><circle cx="401.9" cy="364.2" r="2.75"/><circle cx="403.2" cy="380.0" r="2.75"/><circle cx="403.8" cy="390.7" r="2.75"/><circle cx="404.9" cy="393.8" r="2.75"/><circle cx="406.1" cy="403.0" r="2.75"/><circle cx="407.4" cy="406.1" r="2.75"/><circle cx="408.3" cy="401.9" r="2.75"/><circle cx="409.7" cy="393.4" r="2.75"/><circle cx="410.5" cy="415.3" r="2.75"/><circle cx="411.8" cy="413.1" r="2.75"/><circle cx="413.2" cy="415.7" r="2.75"/><circle cx="414.0" cy="415.5" r="2.75"/><circle cx="415.2" cy="424.8" r="2.75"/><circle cx="416.5" cy="415.1" r="2.75"/><circle cx="417.5" cy="417.8" r="2.75"/><circle cx="418.7" cy="413.6" r="2.75"/><circle cx="419.7" cy="408.3" r="2.75"/><circle cx="420.8" cy="419.0" r="2.75"/><circle cx="421.6" cy="410.2" r="2.75"/><circle cx="423.1" cy="419.6" r="2.75"/><circle cx="423.8" cy="423.1" r="2.75"/><circle cx="424.9" cy="422.8" r="2.75"/><circle cx="426.5" cy="423.1" r="2.75"/><circle cx="427.5" cy="419.4" r="2.75"/><circle cx="428.6" cy="426.0" r="2.75"/><circle cx="429.5" cy="415.1" r="2.75"/><circle cx="430.5" cy="425.4" r="2.75"/><circle cx="431.6" cy="431.9" r="2.75"/><circle cx="433.1" cy="424.2" r="2.75"/><circle cx="434.0" cy="429.0" r="2.75"/><circle cx="435.3" cy="412.8" r="2.75"/><circle cx="436.5" cy="418.7" r="2.75"/><circle cx="437.6" cy="423.9" r="2.75"/><circle cx="438.6" cy="406.7" r="2.75"/><circle cx="439.3" cy="424.5" r="2.75"/><circle cx="440.7" cy="426.8" r="2.75"/><circle cx="441.7" cy="412.9" r="2.75"/><circle cx="443.0" cy="433.3" r="2.75"/><circle cx="444.2" cy="420.1" r="2.75"/><circle cx="445.3" cy="431.4" r="2.75"/><circle cx="446.4" cy="421.0" r="2.75"/><circle cx="447.5" cy="419.9" r="2.75"/><circle cx="448.5" cy="410.6" r="2.75"/><circle cx="449.6" cy="410.0" r="2.75"/><circle cx="450.6" cy="421.1" r="2.75"/><circle cx="451.7" cy="413.7" r="2.75"/><circle cx="452.9" cy="420.4" r="2.75"/><circle cx="453.8" cy="406.3" r="2.75"/><circle cx="455.1" cy="418.8" r="2.75"/><circle cx="456.1" cy="416.9" r="2.75"/><circle cx="457.2" cy="412.3" r="2.75"/><circle cx="458.4" cy="418.7" r="2.75"/><circle cx="459.6" cy="415.3" r="2.75"/><circle cx="460.9" cy="402.7" r="2.75"/><circle cx="461.5" cy="413.8" r="2.75"/><circle cx="462.9" cy="403.5" r="2.75"/><circle cx="463.9" cy="407.4" r="2.75"/><circle cx="465.1" cy="405.5" r="2.75"/><circle cx="466.0" cy="411.2" r="2.75"/><circle cx="467.1" cy="388.5" r="2.75"/><circle cx="468.4" cy="382.4" r="2.75"/><circle cx="469.5" cy="379.6" r="2.75"/><circle cx="470.5" cy="378.6" r="2.75"/><circle cx="472.0" cy="345.3" r="2.75"/><circle cx="472.7" cy="332.6" r="2.75"/><circle cx="474.2" cy="310.9" r="2.75"/><circle cx="475.0" cy="299.0" r="2.75"/><circle cx="475.9" cy="292.6" r="2.75"/><circle cx="477.3" cy="297.6" r="2.75"/><circle cx="478.2" cy="302.9" r="2.75"/><circle cx="479.6" cy="335.7" r="2.75"/><circle cx="480.6" cy="363.3" r="2.75"/><circle cx="482.0" cy="403.1" r="2.75"/><circle cx="482.7" cy="402.2" r="2.75"/><circle cx="483.7" cy="399.0" r="2.75"/><circle cx="485.1" cy="385.4" r="2.75"/><circle cx="486.0" cy="396.8" r="2.75"/><circle cx="487.3" cy="398.6" r="2.75"/><circle cx="488.1" cy="400.6" r="2.75"/><circle cx="489.7" cy="413.9" r="2.75"/><circle cx="490.7" cy="406.7" r="2.75"/><circle cx="491.9" cy="404.5" r="2.75"/><circle cx="492.7" cy="397.1" r="2.75"/><circle cx="493.8" cy="418.1" r="2.75"/><circle cx="494.9" cy="408.7" r="2.75"/><circle cx="496.2" cy="401.2" r="2.75"/><circle cx="497.0" cy="405.9" r="2.75"/><circle cx="498.6" cy="393.6" r="2.75"/><circle cx="499.4" cy="386.8" r="2.75"/><circle cx="500.5" cy="347.9" r="2.75"/><circle cx="501.6" cy="313.3" r="2.75"/><circle cx="503.0" cy="293.8" r="2.75"/><circle cx="503.9" cy="284.6" r="2.75"/><circle cx="505.1" cy="281.9" r="2.75"/><circle cx="506.3" cy="293.8" r="2.75"/><circle cx="507.0" cy="293.2" r="2.75"/><circle cx="508.5" cy="334.1" r="2.75"/><circle cx="509.3" cy="349.1" r="2.75"/><circle cx="510.5" cy="377.0" r="2.75"/><circle cx="511.6" cy="390.3" r="2.75"/><circle cx="512.9" cy="395.0" r="2.75"/><circle cx="513.8" cy="409.2" r="2.75"/><circle cx="514.9" cy="409.3" r="2.75"/><circle cx="516.0" cy="401.8" r="2.75"/><circle cx="517.1" cy="410.9" r="2.75"/><circle cx="518.3" cy="405.0" r="2.75"/><circle cx="519.3" cy="415.5" r="2.75"/><circle cx="520.3" cy="422.2" r="2.75"/><circle cx="521.7" cy="411.8" r="2.75"/><circle cx="522.8" cy="428.2" r="2.75"/><circle cx="523.8" cy="428.0" r="2.75"/><circle cx="525.0" cy="428.9" r="2.75"/><circle cx="525.9" cy="426.6" r="2.75"/><circle cx="527.2" cy="421.4" r="2.75"/><circle cx="528.5" cy="444.2" r="2.75"/><circle cx="529.4" cy="429.2" r="2.75"/><circle cx="530.4" cy="417.1" r="2.75"/><circle cx="531.9" cy="431.1" r="2.75"/><circle cx="532.6" cy="423.6" r="2.75"/><circle cx="533.9" cy="427.1" r="2.75"/><circle cx="535.1" cy="435.6" r="2.75"/><circle cx="536.2" cy="438.3" r="2.75"/><circle cx="537.4" cy="425.5" r="2.75"/><circle cx="538.5" cy="423.9" r="2.75"/><circle cx="539.2" cy="442.4" r="2.75"/><circle cx="540.8" cy="432.8" r="2.75"/><circle cx="541.6" cy="435.8" r="2.75"/><circle cx="542.9" cy="431.0" r="2.75"/><circle cx="543.9" cy="437.4" r="2.75"/><circle cx="544.8" cy="424.7" r="2.75"/><circle cx="545.9" cy="426.3" r="2.75"/><circle cx="547.4" cy="437.7" r="2.75"/><circle cx="548.5" cy="434.1" r="2.75"/><circle cx="549.5" cy="425.7" r="2.75"/><circle cx="550.5" cy="427.8" r="2.75"/><circle cx="551.7" cy="431.1" r="2.75"/><circle cx="552.8" cy="421.0" r="2.75"/><circle cx="553.9" cy="423.2" r="2.75"/><circle cx="555.2" cy="426.5" r="2.75"/><circle cx="556.3" cy="421.5" r="2.75"/><circle cx="557.4" cy="428.7" r="2.75"/><circle cx="558.0" cy="425.9" r="2.75"/><circle cx="559.2" cy="423.8" r="2.75"/><circle cx="560.4" cy="422.9" r="2.75"/><circle cx="561.9" cy="429.8" r="2.75"/><circle cx="562.6" cy="419.8" r="2.75"/><circle cx="564.1" cy="414.6" r="2.75"/><circle cx="565.2" cy="409.9" r="2.75"/><circle cx="566.2" cy="419.2" r="2.75"/><circle cx="567.1" cy="413.5" r="2.75"/><circle cx="568.3" cy="420.0" r="2.75"/><circle cx="569.3" cy="405.5" r="2.75"/><circle cx="570.5" cy="422.1" r="2.75"/><circle cx="571.7" cy="413.3" r="2.75"/><circle cx="572.9" cy="409.2" r="2.75"/><circle cx="573.7" cy="403.1" r="2.75"/><circle cx="575.2" cy="410.2" r="2.75"/><circle cx="576.0" cy="420.3" r="2.75"/><circle cx="577.4" cy="400.6" r="2.75"/><circle cx="578.4" cy="393.0" r="2.75"/><circle cx="579.6" cy="398.7" r="2.75"/><circle cx="580.7" cy="381.4" r="2.75"/><circle cx="581.6" cy="368.1" r="2.75"/><circle cx="582.8" cy="359.3" r="2.75"/><circle cx="583.8" cy="349.3" r="2.75"/><circle cx="585.1" cy="336.7" r="2.75"/><circle cx="586.1" cy="323.2" r="2.75"/><circle cx="587.4" cy="314.2" r="2.75"/><circle cx="588.3" cy="323.1" r="2.75"/><circle cx="589.6" cy="335.5" r="2.75"/><circle cx="590.7" cy="369.6" r="2.75"/><circle cx="591.4" cy="384.9" r="2.75"/><circle cx="592.6" cy="391.6" r="2.75"/><circle cx="594.0" cy="395.8" r="2.75"/><circle cx="595.2" cy="409.4" r="2.75"/><circle cx="595.9" cy="410.6" r="2.75"/><circle cx="597.3" cy="415.6" r="2.75"/><circle cx="598.1" cy="417.2" r="2.75"/><circle cx="599.4" cy="412.5" r="2.75"/><circle cx="600.5" cy="407.1" r="2.75"/><circle cx="601.8" cy="411.3" r="2.75"/><circle cx="602.7" cy="408.9" r="2.75"/><circle cx="604.0" cy="408.0" r="2.75"/><circle cx="604.7" cy="409.7" r="2.75"/><circle cx="606.3" cy="420.1" r="2.75"/><circle cx="607.3" cy="404.6" r="2.75"/><circle cx="608.5" cy="397.8" r="2.75"/><circle cx="609.6" cy="398.5" r="2.75"/><circle cx="610.5" cy="382.0" r="2.75"/><circle cx="611.8" cy="351.3" r="2.75"/><circle cx="612.7" cy="339.9" r="2.75"/><circle cx="613.8" cy="322.0" r="2.75"/><circle cx="614.8" cy="314.1" r="2.75"/><circle cx="616.0" cy="313.3" r="2.75"/><circle cx="617.1" cy="316.7" r="2.75"/><circle cx="618.1" cy="330.3" r="2.75"/><circle cx="619.2" cy="352.5" r="2.75"/><circle cx="620.4" cy="391.1" r="2.75"/><circle cx="621.5" cy="396.8" r="2.75"/><circle cx="622.9" cy="401.0" r="2.75"/><circle cx="623.7" cy="394.4" r="2.75"/><circle cx="625.1" cy="395.8" r="2.75"/><circle cx="626.2" cy="407.1" r="2.75"/><circle cx="627.1" cy="405.4" r="2.75"/><circle cx="628.2" cy="407.5" r="2.75"/><circle cx="629.2" cy="414.4" r="2.75"/><circle cx="630.7" cy="418.7" r="2.75"/><circle cx="631.8" cy="429.4" r="2.75"/><circle cx="632.7" cy="433.2" r="2.75"/><circle cx="633.6" cy="421.3" r="2.75"/><circle cx="635.0" cy="428.4" r="2.75"/><circle cx="635.9" cy="420.3" r="2.75"/><circle cx="636.9" cy="415.2" r="2.75"/><circle cx="638.1" cy="430.3" r="2.75"/><circle cx="639.6" cy="424.8" r="2.75"/><circle cx="640.4" cy="434.2" r="2.75"/><circle cx="641.4" cy="429.2" r="2.75"/><circle cx="642.6" cy="431.9" r="2.75"/><circle cx="643.9" cy="427.6" r="2.75"/><circle cx="644.6" cy="416.6" r="2.75"/><circle cx="645.7" cy="422.0" r="2.75"/><circle cx="647.4" cy="407.8" r="2.75"/><circle cx="648.1" cy="419.2" r="2.75"/><circle cx="649.1" cy="425.4" r="2.75"/><circle cx="650.2" cy="420.1" r="2.75"/><circle cx="651.7" cy="435.5" r="2.75"/><circle cx="652.7" cy="434.6" r="2.75"/><circle cx="653.9" cy="422.2" r="2.75"/><circle cx="654.8" cy="423.1" r="2.75"/><circle cx="656.2" cy="428.3" r="2.75"/><circle cx="657.3" cy="416.8" r="2.75"/><circle cx="221.8" cy="395.3" r="2.75"/><circle cx="208.2" cy="400.5" r="2.75"/><circle cx="213.9" cy="403.9" r="2.75"/><circle cx="648.3" cy="401.7" r="2.75"/><circle cx="616.0" cy="310.0" r="2.75"/><circle cx="283.8" cy="290.0" r="2.75"/><circle cx="129.7" cy="405.1" r="2.75"/><circle cx="536.3" cy="405.0" r="2.75"/></g>
<line x1="379.6" y1="223.3" x2="379.6" y2="1.5" stroke="#808080" stroke-width="2.4" stroke-dasharray="7.2 3.6"/>
<line x1="379.6" y1="445.5" x2="379.6" y2="223.3" stroke="#808080" stroke-width="2.4" stroke-dasharray="7.2 3.6"/>
<path d="M157.6,223.3v-4.3M157.6,1.5v4.3M268.6,223.3v-4.3M268.6,1.5v4.3M379.6,223.3v-4.3M379.6,1.5v4.3M490.6,223.3v-4.3M490.6,1.5v4.3M601.6,223.3v-4.3M601.6,1.5v4.3M75.4,219.4h5.2M683.5,219.4h-5.2M75.4,171.9h5.2M683.5,171.9h-5.2M75.4,124.4h5.2M683.5,124.4h-5.2M75.4,76.9h5.2M683.5,76.9h-5.2M75.4,29.4h5.2M683.5,29.4h-5.2M157.6,445.5v-4.3M157.6,223.3v4.3M268.6,445.5v-4.3M268.6,223.3v4.3M379.6,445.5v-4.3M379.6,223.3v4.3M490.6,445.5v-4.3M490.6,223.3v4.3M601.6,445.5v-4.3M601.6,223.3v4.3M75.4,441.6h5.2M683.5,441.6h-5.2M75.4,394.1h5.2M683.5,394.1h-5.2M75.4,346.6h5.2M683.5,346.6h-5.2M75.4,299.1h5.2M683.5,299.1h-5.2M75.4,251.6h5.2M683.5,251.6h-5.2" stroke="#000" stroke-width="1.2" fill="none"/>
<path d="M75.4,0V447M683.5,0V447M74,1.5H685M74,223.3H685M74,445.5H685" stroke="#000" stroke-width="3" fill="none"/>
<rect x="369.5" y="228.8" width="41" height="11.4" fill="#fff"/>
<text transform="translate(370.37,238.60) scale(0.9867,1)" font-family="Liberation Serif" font-size="14.19" fill="#000">2</text>
<text transform="translate(377.39,239.13) scale(0.8198,1)" font-family="Liberation Serif" font-style="italic" font-size="17.02" fill="#000">ν</text>
<text transform="translate(383.37,240.60) scale(1.1427,1)" font-family="Liberation Serif" font-size="9.93" fill="#000">linear</text>
<g stroke="#000" stroke-width="1.3" fill="none"><path d="M168,248.4H201"/><path d="M168,267.3H201" stroke-dasharray="1.3 2.6"/><path d="M346.5,251.8H366.3"/><path d="M397.2,251.8H416"/><path d="M368,263.7H377" stroke-dasharray="1.3 2.6"/><path d="M397.8,263.7H406" stroke-dasharray="1.3 2.6"/></g>
<g fill="#000"><path d="M206.5,248.4L199.3,245.5V251.3Z"/><path d="M206.5,267.3L199.3,264.4V270.2Z"/><path d="M344.4,251.8L351.2,249V254.6Z"/><path d="M418.4,251.8L411.6,249V254.6Z"/><path d="M381.8,263.7L375,260.9V266.5Z"/><path d="M411,263.7L404.2,260.9V266.5Z"/></g>
<path d="M366.4,248.4C367.5,245.5 369,244.5 371.5,244.2L376.5,243.6C379,243.3 380.5,242 381.1,240.4C381.7,242 383.2,243.3 385.7,243.6L390.7,244.2C393.2,244.5 394.7,245.5 395.8,248.4" fill="none" stroke="#000" stroke-width="1.4"/>
<text transform="translate(211.61,250.06) scale(0.9393,1)" font-family="Liberation Serif" font-style="italic" font-size="13.62" fill="#000">ν</text>
<text transform="translate(217.37,251.91) scale(1.3154,1)" font-family="Liberation Serif" font-size="8.79" fill="#000">linear</text>
<text transform="translate(211.61,269.27) scale(0.9696,1)" font-family="Liberation Serif" font-style="italic" font-size="13.19" fill="#000">ν</text>
<text transform="translate(217.64,271.61) scale(1.2454,1)" font-family="Liberation Serif" font-size="9.22" fill="#000">nonlinear</text>
<text transform="translate(25.37,227.19) scale(1.1237,1)" font-family="Liberation Sans" font-size="20.78" fill="#000" stroke="#000" stroke-width="0.31">0.00</text>
<text transform="translate(25.36,179.69) scale(1.1252,1)" font-family="Liberation Sans" font-size="20.78" fill="#000" stroke="#000" stroke-width="0.31">0.25</text>
<text transform="translate(25.37,132.19) scale(1.1237,1)" font-family="Liberation Sans" font-size="20.78" fill="#000" stroke="#000" stroke-width="0.31">0.50</text>
<text transform="translate(25.36,84.69) scale(1.1252,1)" font-family="Liberation Sans" font-size="20.78" fill="#000" stroke="#000" stroke-width="0.31">0.75</text>
<text transform="translate(24.94,37.19) scale(1.1267,1)" font-family="Liberation Sans" font-size="20.78" fill="#000" stroke="#000" stroke-width="0.31">1.00</text>
<text transform="translate(25.37,449.39) scale(1.1237,1)" font-family="Liberation Sans" font-size="20.78" fill="#000" stroke="#000" stroke-width="0.31">0.00</text>
<text transform="translate(25.36,401.89) scale(1.1252,1)" font-family="Liberation Sans" font-size="20.78" fill="#000" stroke="#000" stroke-width="0.31">0.25</text>
<text transform="translate(25.37,354.39) scale(1.1237,1)" font-family="Liberation Sans" font-size="20.78" fill="#000" stroke="#000" stroke-width="0.31">0.50</text>
<text transform="translate(25.36,306.89) scale(1.1252,1)" font-family="Liberation Sans" font-size="20.78" fill="#000" stroke="#000" stroke-width="0.31">0.75</text>
<text transform="translate(24.94,259.39) scale(1.1267,1)" font-family="Liberation Sans" font-size="20.78" fill="#000" stroke="#000" stroke-width="0.31">1.00</text>
<text transform="translate(136.65,465.49) scale(1.1904,1)" font-family="Liberation Sans" font-size="21.06" fill="#000" stroke="#000" stroke-width="0.29">−20</text>
<text transform="translate(247.65,465.49) scale(1.1904,1)" font-family="Liberation Sans" font-size="21.06" fill="#000" stroke="#000" stroke-width="0.29">−10</text>
<text transform="translate(373.53,465.49) scale(1.0342,1)" font-family="Liberation Sans" font-size="21.06" fill="#000" stroke="#000" stroke-width="0.34">0</text>
<text transform="translate(478.09,465.49) scale(1.0806,1)" font-family="Liberation Sans" font-size="21.06" fill="#000" stroke="#000" stroke-width="0.32">10</text>
<text transform="translate(588.85,465.49) scale(1.0913,1)" font-family="Liberation Sans" font-size="21.06" fill="#000" stroke="#000" stroke-width="0.32">20</text>
<text transform="translate(15.39,297.25) rotate(-90) scale(1.0582,1)" font-family="Liberation Sans" font-size="21.22" fill="#000" stroke="#000" stroke-width="0.33">Normalized TS</text>
<text transform="translate(320.58,494.20) scale(0.9249,1)" font-family="Liberation Serif" font-style="italic" font-size="29.72" fill="#000">δ</text>
<text transform="translate(335.40,500.48) scale(0.9537,1)" font-family="Liberation Serif" font-size="41.94" fill="#000">/</text>
<text transform="translate(347.65,494.20) scale(1.1348,1)" font-family="Liberation Serif" font-size="24.45" fill="#000">2</text>
<text transform="translate(360.94,494.18) scale(1.0158,1)" font-family="Liberation Serif" font-style="italic" font-size="32.34" fill="#000">π</text>
<text transform="translate(386.56,492.15) scale(1.0986,1)" font-family="Liberation Sans" font-size="28.20" fill="#000" stroke="#000" stroke-width="0.32">(kHz)</text>
<text transform="translate(99.56,34.87) scale(1.1470,1)" font-family="Liberation Serif" font-weight="bold" font-size="33.33" fill="#000">a</text>
<text transform="translate(98.73,262.37) scale(1.1380,1)" font-family="Liberation Serif" font-weight="bold" font-size="33.05" fill="#000">b</text>
<text transform="translate(550.60,28.65) scale(1.0194,1)" font-family="Liberation Serif" font-style="italic" font-size="19.62" fill="#000">B</text>
<text transform="translate(562.65,31.30) scale(1.0043,1)" font-family="Liberation Serif" font-style="italic" font-size="15.00" fill="#000">z</text>
<text transform="translate(574.18,29.97) scale(1.1411,1)" font-family="Liberation Serif" font-size="19.60" fill="#000">=</text>
<text transform="translate(591.17,28.80) scale(0.9635,1)" font-family="Liberation Serif" font-size="20.29" fill="#000">0.07</text>
<text transform="translate(630.09,28.89) scale(0.9550,1)" font-family="Liberation Serif" font-size="21.26" fill="#000">G</text>
<text transform="translate(550.60,252.15) scale(1.0194,1)" font-family="Liberation Serif" font-style="italic" font-size="19.62" fill="#000">B</text>
<text transform="translate(562.65,254.80) scale(1.0043,1)" font-family="Liberation Serif" font-style="italic" font-size="15.00" fill="#000">z</text>
<text transform="translate(574.18,253.47) scale(1.1411,1)" font-family="Liberation Serif" font-size="19.60" fill="#000">=</text>
<text transform="translate(591.48,252.30) scale(0.9524,1)" font-family="Liberation Serif" font-size="20.29" fill="#000">0.462</text>
<text transform="translate(639.89,252.39) scale(0.9550,1)" font-family="Liberation Serif" font-size="21.26" fill="#000">G</text>
</svg></body></html>
